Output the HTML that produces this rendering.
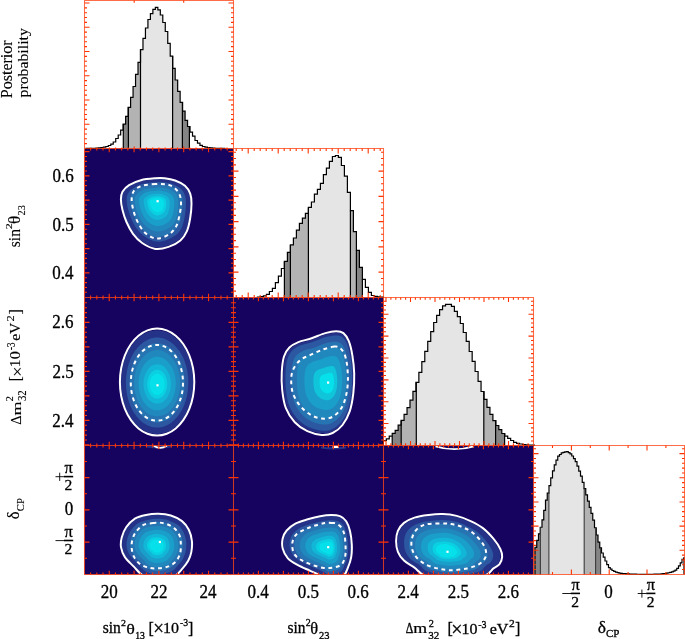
<!DOCTYPE html>
<html><head><meta charset="utf-8"><style>
html,body{margin:0;padding:0;background:#fff;width:685px;height:639px;overflow:hidden}
svg{display:block;font-family:"Liberation Serif",serif;will-change:transform}
</style></head><body>
<svg width="685" height="639" viewBox="0 0 685 639"><rect x="0" y="0" width="685" height="639" fill="#fff"/>
<rect x="84.5" y="148.5" width="149" height="149" fill="#15035f"/>
<rect x="84.5" y="297.5" width="149" height="148" fill="#15035f"/>
<rect x="233.5" y="297.5" width="150" height="148" fill="#15035f"/>
<rect x="84.5" y="445.5" width="149" height="129" fill="#15035f"/>
<rect x="233.5" y="445.5" width="150" height="129" fill="#15035f"/>
<rect x="383.5" y="445.5" width="150" height="129" fill="#15035f"/>
<path d="M123.3 148.5L123.3 124.1L125.64 124.1L125.64 116.3L128.12 116.3L128.12 107.4L128.4 107.4L128.4 148.5Z" fill="#858585"/>
<path d="M128.4 148.5L128.4 107.4L130.59 107.4L130.59 97.4L133.07 97.4L133.07 86.5L135.55 86.5L135.55 74.3L138.02 74.3L138.02 62.3L140.5 62.3L140.5 148.5Z" fill="#b3b3b3"/>
<path d="M140.5 148.5L140.5 49.6L142.98 49.6L142.98 38.3L145.45 38.3L145.45 28L147.93 28L147.93 19.5L150.41 19.5L150.41 13.6L152.88 13.6L152.88 9.4L155.36 9.4L155.36 7.3L157.84 7.3L157.84 9.9L160.32 9.9L160.32 15L162.79 15L162.79 22.5L165.27 22.5L165.27 31.5L167.75 31.5L167.75 43.4L170.22 43.4L170.22 56.1L172.6 56.1L172.6 148.5Z" fill="#e5e5e5"/>
<path d="M172.6 148.5L172.6 56.1L172.7 56.1L172.7 68.3L175.18 68.3L175.18 80L177.66 80L177.66 91.3L180.13 91.3L180.13 102.3L182.4 102.3L182.4 148.5Z" fill="#b3b3b3"/>
<path d="M182.4 148.5L182.4 102.3L182.61 102.3L182.61 111.2L185.09 111.2L185.09 120.4L187.56 120.4L187.56 126.5L189.4 126.5L189.4 148.5Z" fill="#858585"/>
<path d="M86.01 148.5V148.45H88.48V148.42H90.96V148.36H93.44V148.28H95.91V148.13H98.39V147.89H100.87V147.5H103.34V147.1H105.82V146.5H108.3V145.5H110.78V144.2H113.25V142H115.73V138.5H118.21V135H120.68V130.2H123.16V124.1H125.64V116.3H128.12V107.4H130.59V97.4H133.07V86.5H135.55V74.3H138.02V62.3H140.5V49.6H142.98V38.3H145.45V28H147.93V19.5H150.41V13.6H152.88V9.4H155.36V7.3H157.84V9.9H160.32V15H162.79V22.5H165.27V31.5H167.75V43.4H170.22V56.1H172.7V68.3H175.18V80H177.66V91.3H180.13V102.3H182.61V111.2H185.09V120.4H187.56V126.5H190.04V132.2H192.52V136.2H194.99V140.5H197.47V143.2H199.95V145.3H202.43V146.5H204.9V147.2H207.38V147.6H209.86V147.95H212.33V148.17H214.81V148.3H217.29V148.38H219.76V148.43H222.24V148.46H224.72V148.5" fill="none" stroke="#000" stroke-width="1.2"/>
<path d="M123.3 148.5V124.1" stroke="#000" stroke-width="1.2"/>
<path d="M128.4 148.5V107.4" stroke="#000" stroke-width="1.2"/>
<path d="M140.5 148.5V49.6" stroke="#000" stroke-width="1.2"/>
<path d="M172.6 148.5V56.1" stroke="#000" stroke-width="1.2"/>
<path d="M182.4 148.5V102.3" stroke="#000" stroke-width="1.2"/>
<path d="M189.4 148.5V126.5" stroke="#000" stroke-width="1.2"/>
<path d="M284.4 297.5L284.4 261.4L287.4 261.4L287.4 252.3L290.4 252.3L290.4 297.5Z" fill="#858585"/>
<path d="M290.4 297.5L290.4 244.9L293.4 244.9L293.4 238L296.4 238L296.4 230.2L299.4 230.2L299.4 223.3L302.4 223.3L302.4 218.1L305.4 218.1L305.4 213.3L308.4 213.3L308.4 297.5Z" fill="#b3b3b3"/>
<path d="M308.4 297.5L308.4 207.4L311.4 207.4L311.4 202L314.4 202L314.4 194.2L317.4 194.2L317.4 189.3L320.4 189.3L320.4 183.3L323.4 183.3L323.4 174.6L326.4 174.6L326.4 168.2L329.4 168.2L329.4 161.3L332.4 161.3L332.4 156.5L335.4 156.5L335.4 155.5L338.4 155.5L338.4 157.4L341.4 157.4L341.4 165.5L344.4 165.5L344.4 176.2L347.4 176.2L347.4 192.3L350.4 192.3L350.4 297.5Z" fill="#e5e5e5"/>
<path d="M350.4 297.5L350.4 210.6L353.4 210.6L353.4 231.6L356.4 231.6L356.4 297.5Z" fill="#b3b3b3"/>
<path d="M356.4 297.5L356.4 250.4L359.4 250.4L359.4 267.3L362.4 267.3L362.4 297.5Z" fill="#858585"/>
<path d="M257.4 297.5V297H260.4V296.6H263.4V295.9H266.4V294.3H269.4V291.5H272.4V288.4H275.4V282.7H278.4V276.2H281.4V268.5H284.4V261.4H287.4V252.3H290.4V244.9H293.4V238H296.4V230.2H299.4V223.3H302.4V218.1H305.4V213.3H308.4V207.4H311.4V202H314.4V194.2H317.4V189.3H320.4V183.3H323.4V174.6H326.4V168.2H329.4V161.3H332.4V156.5H335.4V155.5H338.4V157.4H341.4V165.5H344.4V176.2H347.4V192.3H350.4V210.6H353.4V231.6H356.4V250.4H359.4V267.3H362.4V279.3H365.4V287.4H368.4V292.3H371.4V295.5H374.4V296.3H377.4V296.8H380.4V297.1H383.4V297.5" fill="none" stroke="#000" stroke-width="1.2"/>
<path d="M284.4 297.5V261.4" stroke="#000" stroke-width="1.2"/>
<path d="M290.4 297.5V244.9" stroke="#000" stroke-width="1.2"/>
<path d="M308.4 297.5V207.4" stroke="#000" stroke-width="1.2"/>
<path d="M350.4 297.5V210.6" stroke="#000" stroke-width="1.2"/>
<path d="M356.4 297.5V250.4" stroke="#000" stroke-width="1.2"/>
<path d="M362.4 297.5V279.3" stroke="#000" stroke-width="1.2"/>
<path d="M392.2 445.5L392.2 436.2L392.22 436.2L392.22 433.3L395.18 433.3L395.18 430.3L398.14 430.3L398.14 425.2L401.11 425.2L401.11 420.4L401.2 420.4L401.2 445.5Z" fill="#858585"/>
<path d="M401.2 445.5L401.2 420.4L404.07 420.4L404.07 414.3L407.03 414.3L407.03 407.6L409.99 407.6L409.99 400.2L412.95 400.2L412.95 391.3L415.91 391.3L415.91 382.4L416.3 382.4L416.3 445.5Z" fill="#b3b3b3"/>
<path d="M416.3 445.5L416.3 382.4L418.87 382.4L418.87 372.3L421.83 372.3L421.83 361.7L424.79 361.7L424.79 351.4L427.75 351.4L427.75 341.3L430.72 341.3L430.72 331.6L433.68 331.6L433.68 322.5L436.64 322.5L436.64 315.3L439.6 315.3L439.6 309.7L442.56 309.7L442.56 305.9L445.52 305.9L445.52 304.3L448.48 304.3L448.48 304.3L451.44 304.3L451.44 306.4L454.4 306.4L454.4 311.3L457.36 311.3L457.36 316.7L460.33 316.7L460.33 323.5L463.29 323.5L463.29 332.5L466.25 332.5L466.25 341.4L469.21 341.4L469.21 351.5L472.17 351.5L472.17 361.4L475.13 361.4L475.13 371.5L478.09 371.5L478.09 381.3L481.05 381.3L481.05 391.5L483.8 391.5L483.8 445.5Z" fill="#e5e5e5"/>
<path d="M483.8 445.5L483.8 391.5L484.01 391.5L484.01 399.4L486.97 399.4L486.97 407.3L489.94 407.3L489.94 414.3L492.9 414.3L492.9 420.6L495.6 420.6L495.6 445.5Z" fill="#b3b3b3"/>
<path d="M495.6 445.5L495.6 420.6L495.86 420.6L495.86 425.5L498.82 425.5L498.82 429.6L501.78 429.6L501.78 433.5L504.6 433.5L504.6 445.5Z" fill="#858585"/>
<path d="M383.34 445.5V440.5H386.3V438.8H389.26V436.2H392.22V433.3H395.18V430.3H398.14V425.2H401.11V420.4H404.07V414.3H407.03V407.6H409.99V400.2H412.95V391.3H415.91V382.4H418.87V372.3H421.83V361.7H424.79V351.4H427.75V341.3H430.72V331.6H433.68V322.5H436.64V315.3H439.6V309.7H442.56V305.9H445.52V304.3H448.48V304.3H451.44V306.4H454.4V311.3H457.36V316.7H460.33V323.5H463.29V332.5H466.25V341.4H469.21V351.5H472.17V361.4H475.13V371.5H478.09V381.3H481.05V391.5H484.01V399.4H486.97V407.3H489.94V414.3H492.9V420.6H495.86V425.5H498.82V429.6H501.78V433.5H504.74V436.2H507.7V438.3H510.66V440.5H513.62V442.3H516.59V443.3H519.55V444H522.51V444.5H525.47V444.8H528.43V445H531.39V445.1H534.35V445.5" fill="none" stroke="#000" stroke-width="1.2"/>
<path d="M392.2 445.5V436.2" stroke="#000" stroke-width="1.2"/>
<path d="M401.2 445.5V420.4" stroke="#000" stroke-width="1.2"/>
<path d="M416.3 445.5V382.4" stroke="#000" stroke-width="1.2"/>
<path d="M483.8 445.5V391.5" stroke="#000" stroke-width="1.2"/>
<path d="M495.6 445.5V420.6" stroke="#000" stroke-width="1.2"/>
<path d="M504.6 445.5V433.5" stroke="#000" stroke-width="1.2"/>
<path d="M535 574.5L535 547.4L536.75 547.4L536.75 540.3L538.5 540.3L538.5 533.81L540.25 533.81L540.25 527.27L540.4 527.27L540.4 574.5Z" fill="#858585"/>
<path d="M540.4 574.5L540.4 527.27L542 527.27L542 519.81L543.75 519.81L543.75 510.47L545.5 510.47L545.5 500.1L547.25 500.1L547.25 493.19L548.9 493.19L548.9 574.5Z" fill="#b3b3b3"/>
<path d="M548.9 574.5L548.9 493.19L549 493.19L549 485.56L550.75 485.56L550.75 477.9L552.5 477.9L552.5 470.9L554.25 470.9L554.25 464.9L556 464.9L556 460.16L557.75 460.16L557.75 456.22L559.5 456.22L559.5 454.48L561.25 454.48L561.25 452.92L563 452.92L563 452.43L564.75 452.43L564.75 451.93L566.5 451.93L566.5 451.64L568.25 451.64L568.25 452.72L570 452.72L570 453.97L571.75 453.97L571.75 455.98L573.5 455.98L573.5 458.59L575.25 458.59L575.25 461.6L577 461.6L577 466.2L578.75 466.2L578.75 471.03L580.5 471.03L580.5 476.08L582.25 476.08L582.25 482.3L584 482.3L584 488.54L584.2 488.54L584.2 574.5Z" fill="#e5e5e5"/>
<path d="M584.2 574.5L584.2 488.54L585.75 488.54L585.75 494.83L587.5 494.83L587.5 501.13L589.25 501.13L589.25 507.3L591 507.3L591 513.47L592.75 513.47L592.75 520.08L594.5 520.08L594.5 527.74L595.6 527.74L595.6 574.5Z" fill="#b3b3b3"/>
<path d="M595.6 574.5L595.6 527.74L596.25 527.74L596.25 535.01L598 535.01L598 542.2L599.75 542.2L599.75 547.96L600.6 547.96L600.6 574.5Z" fill="#858585"/>
<path d="M535 574.5V547.4H536.75V540.3H538.5V533.81H540.25V527.27H542V519.81H543.75V510.47H545.5V500.1H547.25V493.19H549V485.56H550.75V477.9H552.5V470.9H554.25V464.9H556V460.16H557.75V456.22H559.5V454.48H561.25V452.92H563V452.43H564.75V451.93H566.5V451.64H568.25V452.72H570V453.97H571.75V455.98H573.5V458.59H575.25V461.6H577V466.2H578.75V471.03H580.5V476.08H582.25V482.3H584V488.54H585.75V494.83H587.5V501.13H589.25V507.3H591V513.47H592.75V520.08H594.5V527.74H596.25V535.01H598V542.2H599.75V547.96H601.5V553.02H603.25V557.15H605V561H606.75V564.72H608.5V567.62H610.25V569.15H612V570.52H613.75V571.42H615.5V572.13H617.25V572.61H619V573.1H620.75V573.35H622.5V573.53H624.25V573.71H626V573.83H627.75V573.95H629.5V574.07H631.25V574.13H633V574.16H634.75V574.2H636.5V574.23H638.25V574.27H640V574.3H641.75V574.3H643.5V574.3H645.25V574.3H647V574.3H648.75V574.3H650.5V574.28H652.25V574.23H654V574.18H655.75V574.13H657.5V574.07H659.25V574.02H661V573.9H662.75V573.72H664.5V573.55H666.25V573.19H668V572.76H669.75V572.33H671.5V571.79H673.25V571.13H675V570.1H676.75V568.41H678.5V565.88H680.25V562.78H682V559.36H683.75V557.91H684V574.5" fill="none" stroke="#000" stroke-width="1.2"/>
<path d="M535 574.5V547.4" stroke="#3a3a3a" stroke-width="1.1"/>
<path d="M540.4 574.5V527.27" stroke="#3a3a3a" stroke-width="1.1"/>
<path d="M548.9 574.5V493.19" stroke="#3a3a3a" stroke-width="1.1"/>
<path d="M584.2 574.5V488.54" stroke="#3a3a3a" stroke-width="1.1"/>
<path d="M595.6 574.5V527.74" stroke="#3a3a3a" stroke-width="1.1"/>
<path d="M600.6 574.5V547.96" stroke="#3a3a3a" stroke-width="1.1"/>
<defs>
<clipPath id="c41"><rect x="84.5" y="445.5" width="149" height="129"/></clipPath>
<clipPath id="c42"><rect x="233.5" y="445.5" width="150" height="129"/></clipPath>
<clipPath id="c43"><rect x="383.5" y="445.5" width="150" height="129"/></clipPath>
</defs>
<path d="M155.45 179.04C151.62 179.35 145.63 179.78 141.38 180.88C137.13 181.98 132.91 183.78 129.94 185.64C126.96 187.5 124.86 189.69 123.53 192.04C122.21 194.38 121.98 196.73 121.98 199.7C121.98 202.68 122.63 206.27 123.53 209.89C124.44 213.51 125.72 217.6 127.41 221.43C129.11 225.26 131.18 229.48 133.72 232.88C136.26 236.27 139.02 239.36 142.64 241.8C146.27 244.24 151.2 246.89 155.45 247.52C159.7 248.15 164.11 246.96 168.16 245.58C172.2 244.21 176.72 241.82 179.7 239.28C182.67 236.74 184.42 233.98 186 230.35C187.59 226.73 188.46 222.03 189.2 217.55C189.95 213.07 190.47 207.41 190.47 203.49C190.47 199.56 190.25 196.84 189.2 193.98C188.15 191.12 186.6 188.45 184.16 186.32C181.72 184.18 177.85 182.39 174.56 181.18C171.26 179.96 167.56 179.4 164.37 179.04C161.19 178.69 159.28 178.73 155.45 179.04Z" fill="#243388"/>
<path d="M155.66 182.25C152.34 182.52 147.16 182.9 143.48 183.85C139.79 184.8 136.14 186.35 133.56 187.96C130.99 189.57 129.17 191.48 128.02 193.51C126.87 195.54 126.68 197.57 126.68 200.14C126.68 202.72 127.24 205.83 128.02 208.96C128.8 212.1 129.91 215.64 131.38 218.96C132.85 222.28 134.64 225.93 136.84 228.87C139.04 231.81 141.43 234.49 144.57 236.6C147.7 238.71 151.97 241.01 155.66 241.56C159.34 242.1 163.16 241.07 166.66 239.88C170.16 238.69 174.08 236.61 176.66 234.42C179.23 232.22 180.74 229.82 182.12 226.69C183.49 223.55 184.24 219.48 184.89 215.6C185.53 211.72 185.98 206.82 185.98 203.42C185.98 200.02 185.8 197.67 184.89 195.19C183.98 192.71 182.63 190.4 180.52 188.55C178.41 186.7 175.06 185.15 172.2 184.1C169.35 183.05 166.14 182.56 163.38 182.25C160.63 181.94 158.97 181.99 155.66 182.25Z" fill="#2b58a0"/>
<path d="M155.82 184.72C152.89 184.96 148.33 185.29 145.09 186.13C141.84 186.97 138.62 188.34 136.35 189.75C134.08 191.17 132.48 192.85 131.47 194.64C130.46 196.43 130.29 198.21 130.29 200.48C130.29 202.75 130.78 205.49 131.47 208.25C132.16 211.02 133.13 214.14 134.43 217.06C135.73 219.98 137.3 223.2 139.24 225.79C141.18 228.38 143.29 230.74 146.05 232.6C148.81 234.46 152.57 236.49 155.82 236.97C159.06 237.45 162.43 236.53 165.51 235.49C168.59 234.44 172.05 232.61 174.32 230.68C176.59 228.74 177.92 226.63 179.13 223.87C180.33 221.11 181 217.52 181.57 214.1C182.14 210.68 182.53 206.37 182.53 203.37C182.53 200.37 182.37 198.3 181.57 196.12C180.77 193.94 179.58 191.9 177.72 190.27C175.86 188.64 172.91 187.28 170.39 186.35C167.88 185.42 165.05 184.99 162.62 184.72C160.19 184.45 158.74 184.49 155.82 184.72Z" fill="#2774b2"/>
<path d="M156.01 187.69C153.56 187.88 149.74 188.16 147.02 188.86C144.3 189.57 141.6 190.71 139.7 191.9C137.8 193.09 136.46 194.5 135.61 195.99C134.76 197.49 134.62 198.99 134.62 200.89C134.62 202.79 135.03 205.09 135.61 207.4C136.19 209.72 137 212.33 138.09 214.78C139.18 217.23 140.5 219.93 142.12 222.1C143.74 224.27 145.51 226.24 147.82 227.8C150.14 229.36 153.29 231.06 156.01 231.46C158.73 231.86 161.55 231.1 164.13 230.22C166.71 229.34 169.61 227.81 171.51 226.19C173.41 224.57 174.53 222.8 175.54 220.48C176.55 218.17 177.11 215.16 177.58 212.3C178.06 209.44 178.39 205.82 178.39 203.31C178.39 200.8 178.26 199.06 177.58 197.23C176.91 195.4 175.92 193.7 174.36 192.34C172.8 190.97 170.33 189.83 168.22 189.05C166.11 188.28 163.75 187.91 161.71 187.69C159.68 187.46 158.46 187.49 156.01 187.69Z" fill="#2188be"/>
<path d="M156.2 190.65C154.22 190.81 151.14 191.03 148.95 191.6C146.76 192.17 144.58 193.09 143.05 194.05C141.52 195.01 140.43 196.14 139.75 197.35C139.07 198.56 138.95 199.77 138.95 201.3C138.95 202.83 139.28 204.68 139.75 206.55C140.22 208.42 140.88 210.53 141.75 212.5C142.62 214.47 143.69 216.65 145 218.4C146.31 220.15 147.73 221.74 149.6 223C151.47 224.26 154.01 225.62 156.2 225.95C158.39 226.27 160.67 225.66 162.75 224.95C164.83 224.24 167.17 223.01 168.7 221.7C170.23 220.39 171.13 218.97 171.95 217.1C172.77 215.23 173.22 212.81 173.6 210.5C173.98 208.19 174.25 205.28 174.25 203.25C174.25 201.22 174.14 199.82 173.6 198.35C173.06 196.88 172.26 195.5 171 194.4C169.74 193.3 167.75 192.38 166.05 191.75C164.35 191.12 162.44 190.83 160.8 190.65C159.16 190.47 158.17 190.49 156.2 190.65Z" fill="#1a9eca"/>
<path d="M156.41 193.86C154.95 193.98 152.66 194.14 151.04 194.56C149.42 194.98 147.81 195.67 146.68 196.38C145.54 197.09 144.74 197.92 144.24 198.82C143.73 199.71 143.64 200.61 143.64 201.74C143.64 202.88 143.89 204.25 144.24 205.63C144.58 207.01 145.07 208.57 145.72 210.03C146.36 211.49 147.15 213.1 148.12 214.4C149.09 215.69 150.14 216.87 151.52 217.8C152.91 218.73 154.79 219.74 156.41 219.98C158.03 220.22 159.71 219.77 161.25 219.24C162.8 218.72 164.52 217.81 165.66 216.84C166.79 215.87 167.46 214.82 168.06 213.43C168.67 212.05 169 210.26 169.28 208.55C169.57 206.84 169.76 204.68 169.76 203.19C169.76 201.69 169.68 200.65 169.28 199.56C168.88 198.47 168.29 197.45 167.36 196.64C166.43 195.82 164.96 195.14 163.7 194.68C162.44 194.21 161.03 194 159.81 193.86C158.6 193.73 157.87 193.74 156.41 193.86Z" fill="#12b6d6"/>
<path d="M156.57 196.33C155.5 196.42 153.84 196.54 152.65 196.84C151.47 197.15 150.29 197.65 149.47 198.17C148.64 198.68 148.05 199.3 147.69 199.95C147.32 200.6 147.25 201.25 147.25 202.08C147.25 202.91 147.43 203.91 147.69 204.92C147.94 205.93 148.29 207.06 148.76 208.13C149.24 209.2 149.81 210.37 150.52 211.32C151.23 212.26 152 213.12 153 213.8C154.01 214.48 155.38 215.22 156.57 215.39C157.75 215.57 158.98 215.24 160.1 214.85C161.23 214.47 162.49 213.8 163.32 213.1C164.15 212.39 164.63 211.62 165.07 210.61C165.51 209.61 165.76 208.3 165.96 207.05C166.17 205.8 166.31 204.23 166.31 203.13C166.31 202.04 166.26 201.29 165.96 200.49C165.67 199.69 165.24 198.95 164.56 198.36C163.88 197.76 162.81 197.26 161.89 196.93C160.97 196.59 159.94 196.43 159.05 196.33C158.17 196.23 157.63 196.25 156.57 196.33Z" fill="#0ad0e2"/>
<path d="M156.68 198.06C155.89 198.12 154.66 198.21 153.78 198.44C152.9 198.67 152.03 199.04 151.42 199.42C150.81 199.8 150.37 200.26 150.1 200.74C149.83 201.22 149.78 201.71 149.78 202.32C149.78 202.93 149.91 203.67 150.1 204.42C150.29 205.17 150.55 206.01 150.9 206.8C151.25 207.59 151.68 208.46 152.2 209.16C152.72 209.86 153.29 210.5 154.04 211C154.79 211.5 155.8 212.05 156.68 212.18C157.56 212.31 158.47 212.06 159.3 211.78C160.13 211.5 161.07 211 161.68 210.48C162.29 209.96 162.65 209.39 162.98 208.64C163.31 207.89 163.49 206.92 163.64 206C163.79 205.08 163.9 203.91 163.9 203.1C163.9 202.29 163.86 201.73 163.64 201.14C163.42 200.55 163.1 200 162.6 199.56C162.1 199.12 161.3 198.75 160.62 198.5C159.94 198.25 159.18 198.13 158.52 198.06C157.86 197.99 157.47 198 156.68 198.06Z" fill="#05e0ea"/>
<path d="M155.4 178.3C151.45 178.62 145.28 179.07 140.9 180.2C136.52 181.33 132.17 183.18 129.1 185.1C126.03 187.02 123.87 189.28 122.5 191.7C121.13 194.12 120.9 196.53 120.9 199.6C120.9 202.67 121.57 206.37 122.5 210.1C123.43 213.83 124.75 218.05 126.5 222C128.25 225.95 130.38 230.3 133 233.8C135.62 237.3 138.47 240.48 142.2 243C145.93 245.52 151.02 248.25 155.4 248.9C159.78 249.55 164.33 248.32 168.5 246.9C172.67 245.48 177.33 243.02 180.4 240.4C183.47 237.78 185.27 234.93 186.9 231.2C188.53 227.47 189.43 222.62 190.2 218C190.97 213.38 191.5 207.55 191.5 203.5C191.5 199.45 191.28 196.65 190.2 193.7C189.12 190.75 187.52 188 185 185.8C182.48 183.6 178.5 181.75 175.1 180.5C171.7 179.25 167.88 178.67 164.6 178.3C161.32 177.93 159.35 177.98 155.4 178.3Z" fill="none" stroke="#fff" stroke-width="2"/>
<path d="M155.4 184.1C151.23 184.32 145.72 184.75 142.2 185.8C138.68 186.85 136.05 188.32 134.3 190.4C132.55 192.48 131.92 195.23 131.7 198.3C131.48 201.37 132.12 205.08 133 208.8C133.88 212.52 135.25 216.87 137 220.6C138.75 224.33 141.1 228.45 143.5 231.2C145.9 233.95 148.77 235.9 151.4 237.1C154.03 238.3 156.23 238.95 159.3 238.4C162.37 237.85 166.95 235.88 169.8 233.8C172.65 231.72 174.75 229.18 176.4 225.9C178.05 222.62 178.93 217.83 179.7 214.1C180.47 210.37 181 206.68 181 203.5C181 200.32 180.68 197.52 179.7 195C178.72 192.48 177.18 190.15 175.1 188.4C173.02 186.65 170.48 185.22 167.2 184.5C163.92 183.78 159.57 183.88 155.4 184.1Z" fill="none" stroke="#fff" stroke-width="2" stroke-dasharray="3.8 3.7"/>
<rect x="156.5" y="200.1" width="2.2" height="2.2" fill="#fff"/>
<path d="M193.19 382.19C193.19 386.66 192.77 391.29 191.96 395.62C191.15 399.94 189.91 404.26 188.36 408.13C186.8 412.01 184.82 415.72 182.62 418.88C180.42 422.05 177.84 424.89 175.15 427.13C172.45 429.37 169.45 431.15 166.45 432.31C163.44 433.47 160.22 434.08 157.11 434.08C153.99 434.08 150.77 433.47 147.77 432.31C144.76 431.15 141.76 429.37 139.06 427.13C136.37 424.89 133.79 422.05 131.59 418.88C129.39 415.72 127.41 412.01 125.86 408.13C124.3 404.26 123.06 399.94 122.25 395.62C121.45 391.29 121.02 386.66 121.02 382.19C121.02 377.71 121.45 373.08 122.25 368.76C123.06 364.43 124.3 360.12 125.86 356.24C127.41 352.36 129.39 348.66 131.59 345.49C133.79 342.33 136.37 339.48 139.06 337.24C141.76 335.01 144.76 333.22 147.77 332.06C150.77 330.9 153.99 330.29 157.11 330.29C160.22 330.29 163.44 330.9 166.45 332.06C169.45 333.22 172.45 335.01 175.15 337.24C177.84 339.48 180.42 342.33 182.62 345.49C184.82 348.66 186.8 352.36 188.36 356.24C189.91 360.12 191.15 364.43 191.96 368.76C192.77 373.08 193.19 377.71 193.19 382.19Z" fill="#243388"/>
<path d="M188.38 382.56C188.38 386.44 188.01 390.45 187.32 394.2C186.62 397.94 185.54 401.68 184.19 405.03C182.85 408.39 181.13 411.6 179.23 414.34C177.32 417.08 175.09 419.54 172.76 421.48C170.42 423.42 167.82 424.97 165.22 425.97C162.62 426.98 159.83 427.5 157.13 427.5C154.44 427.5 151.65 426.98 149.04 425.97C146.44 424.97 143.84 423.42 141.51 421.48C139.17 419.54 136.94 417.08 135.04 414.34C133.13 411.6 131.42 408.39 130.07 405.03C128.72 401.68 127.65 397.94 126.95 394.2C126.25 390.45 125.88 386.44 125.88 382.56C125.88 378.69 126.25 374.68 126.95 370.93C127.65 367.19 128.72 363.45 130.07 360.09C131.42 356.74 133.13 353.53 135.04 350.79C136.94 348.05 139.17 345.58 141.51 343.64C143.84 341.71 146.44 340.16 149.04 339.16C151.65 338.15 154.44 337.62 157.13 337.62C159.83 337.62 162.62 338.15 165.22 339.16C167.82 340.16 170.42 341.71 172.76 343.64C175.09 345.58 177.32 348.05 179.23 350.79C181.13 353.53 182.85 356.74 184.19 360.09C185.54 363.45 186.62 367.19 187.32 370.93C188.01 374.68 188.38 378.69 188.38 382.56Z" fill="#2b58a0"/>
<path d="M184.68 382.85C184.68 386.27 184.36 389.8 183.74 393.1C183.13 396.4 182.18 399.69 180.99 402.65C179.8 405.61 178.3 408.43 176.62 410.85C174.94 413.26 172.97 415.43 170.92 417.14C168.86 418.85 166.57 420.21 164.28 421.1C161.98 421.98 159.53 422.44 157.15 422.44C154.78 422.44 152.32 421.98 150.03 421.1C147.73 420.21 145.44 418.85 143.39 417.14C141.33 415.43 139.37 413.26 137.69 410.85C136.01 408.43 134.5 405.61 133.31 402.65C132.12 399.69 131.18 396.4 130.56 393.1C129.95 389.8 129.62 386.27 129.62 382.85C129.62 379.44 129.95 375.91 130.56 372.61C131.18 369.31 132.12 366.02 133.31 363.06C134.5 360.1 136.01 357.27 137.69 354.86C139.37 352.44 141.33 350.28 143.39 348.57C145.44 346.86 147.73 345.5 150.03 344.61C152.32 343.73 154.78 343.26 157.15 343.26C159.53 343.26 161.98 343.73 164.28 344.61C166.57 345.5 168.86 346.86 170.92 348.57C172.97 350.28 174.94 352.44 176.62 354.86C178.3 357.27 179.8 360.1 180.99 363.06C182.18 366.02 183.13 369.31 183.74 372.61C184.36 375.91 184.68 379.44 184.68 382.85Z" fill="#2774b2"/>
<path d="M180.24 383.2C180.24 386.06 179.97 389.02 179.45 391.79C178.94 394.55 178.14 397.31 177.15 399.79C176.16 402.27 174.89 404.63 173.48 406.66C172.08 408.68 170.43 410.5 168.71 411.93C166.98 413.36 165.07 414.5 163.15 415.24C161.22 415.98 159.17 416.37 157.18 416.37C155.19 416.37 153.13 415.98 151.21 415.24C149.28 414.5 147.37 413.36 145.64 411.93C143.92 410.5 142.27 408.68 140.87 406.66C139.46 404.63 138.2 402.27 137.2 399.79C136.21 397.31 135.41 394.55 134.9 391.79C134.38 389.02 134.11 386.06 134.11 383.2C134.11 380.34 134.38 377.38 134.9 374.62C135.41 371.85 136.21 369.1 137.2 366.62C138.2 364.14 139.46 361.77 140.87 359.75C142.27 357.72 143.92 355.91 145.64 354.48C147.37 353.05 149.28 351.9 151.21 351.16C153.13 350.42 155.19 350.03 157.18 350.03C159.17 350.03 161.22 350.42 163.15 351.16C165.07 351.9 166.98 353.05 168.71 354.48C170.43 355.91 172.08 357.72 173.48 359.75C174.89 361.77 176.16 364.14 177.15 366.62C178.14 369.1 178.94 371.85 179.45 374.62C179.97 377.38 180.24 380.34 180.24 383.2Z" fill="#2188be"/>
<path d="M175.8 383.55C175.8 385.86 175.58 388.24 175.17 390.47C174.75 392.7 174.11 394.93 173.31 396.93C172.51 398.92 171.49 400.83 170.35 402.47C169.22 404.1 167.89 405.56 166.5 406.72C165.11 407.87 163.56 408.79 162.01 409.39C160.46 409.99 158.8 410.3 157.2 410.3C155.6 410.3 153.94 409.99 152.39 409.39C150.84 408.79 149.29 407.87 147.9 406.72C146.51 405.56 145.18 404.1 144.05 402.47C142.91 400.83 141.89 398.92 141.09 396.93C140.29 394.93 139.65 392.7 139.23 390.47C138.82 388.24 138.6 385.86 138.6 383.55C138.6 381.24 138.82 378.86 139.23 376.63C139.65 374.4 140.29 372.17 141.09 370.18C141.89 368.18 142.91 366.27 144.05 364.63C145.18 363 146.51 361.54 147.9 360.38C149.29 359.23 150.84 358.31 152.39 357.71C153.94 357.11 155.6 356.8 157.2 356.8C158.8 356.8 160.46 357.11 162.01 357.71C163.56 358.31 165.11 359.23 166.5 360.38C167.89 361.54 169.22 363 170.35 364.63C171.49 366.27 172.51 368.18 173.31 370.18C174.11 372.17 174.75 374.4 175.17 376.63C175.58 378.86 175.8 381.24 175.8 383.55Z" fill="#1a9eca"/>
<path d="M170.99 383.93C170.99 385.63 170.83 387.4 170.52 389.05C170.21 390.7 169.74 392.35 169.15 393.82C168.55 395.3 167.8 396.72 166.96 397.92C166.12 399.13 165.14 400.22 164.11 401.07C163.08 401.92 161.94 402.61 160.79 403.05C159.64 403.49 158.41 403.72 157.23 403.72C156.04 403.72 154.81 403.49 153.66 403.05C152.52 402.61 151.37 401.92 150.34 401.07C149.32 400.22 148.33 399.13 147.49 397.92C146.65 396.72 145.9 395.3 145.31 393.82C144.71 392.35 144.24 390.7 143.93 389.05C143.62 387.4 143.46 385.63 143.46 383.93C143.46 382.22 143.62 380.45 143.93 378.8C144.24 377.15 144.71 375.51 145.31 374.03C145.9 372.55 146.65 371.14 147.49 369.93C148.33 368.72 149.32 367.64 150.34 366.78C151.37 365.93 152.52 365.25 153.66 364.81C154.81 364.36 156.04 364.13 157.23 364.13C158.41 364.13 159.64 364.36 160.79 364.81C161.94 365.25 163.08 365.93 164.11 366.78C165.14 367.64 166.12 368.72 166.96 369.93C167.8 371.14 168.55 372.55 169.15 374.03C169.74 375.51 170.21 377.15 170.52 378.8C170.83 380.45 170.99 382.22 170.99 383.93Z" fill="#12b6d6"/>
<path d="M167.29 384.22C167.29 385.46 167.17 386.75 166.95 387.96C166.72 389.16 166.38 390.36 165.94 391.44C165.51 392.52 164.96 393.55 164.35 394.43C163.74 395.31 163.02 396.1 162.27 396.73C161.52 397.35 160.68 397.85 159.85 398.17C159.01 398.49 158.11 398.66 157.25 398.66C156.38 398.66 155.48 398.49 154.65 398.17C153.81 397.85 152.97 397.35 152.22 396.73C151.47 396.1 150.76 395.31 150.14 394.43C149.53 393.55 148.98 392.52 148.55 391.44C148.11 390.36 147.77 389.16 147.54 387.96C147.32 386.75 147.2 385.46 147.2 384.22C147.2 382.97 147.32 381.68 147.54 380.48C147.77 379.27 148.11 378.07 148.55 376.99C148.98 375.92 149.53 374.88 150.14 374C150.76 373.12 151.47 372.33 152.22 371.71C152.97 371.08 153.81 370.59 154.65 370.26C155.48 369.94 156.38 369.77 157.25 369.77C158.11 369.77 159.01 369.94 159.85 370.26C160.68 370.59 161.52 371.08 162.27 371.71C163.02 372.33 163.74 373.12 164.35 374C164.96 374.88 165.51 375.92 165.94 376.99C166.38 378.07 166.72 379.27 166.95 380.48C167.17 381.68 167.29 382.97 167.29 384.22Z" fill="#0ad0e2"/>
<path d="M164.7 384.42C164.7 385.34 164.61 386.3 164.45 387.19C164.28 388.08 164.02 388.97 163.7 389.77C163.38 390.57 162.97 391.33 162.52 391.99C162.07 392.64 161.54 393.22 160.98 393.69C160.42 394.15 159.81 394.52 159.19 394.76C158.57 394.99 157.9 395.12 157.26 395.12C156.62 395.12 155.95 394.99 155.33 394.76C154.71 394.52 154.1 394.15 153.54 393.69C152.98 393.22 152.45 392.64 152 391.99C151.55 391.33 151.14 390.57 150.82 389.77C150.5 388.97 150.24 388.08 150.07 387.19C149.91 386.3 149.82 385.34 149.82 384.42C149.82 383.5 149.91 382.54 150.07 381.65C150.24 380.76 150.5 379.87 150.82 379.07C151.14 378.27 151.55 377.51 152 376.85C152.45 376.2 152.98 375.62 153.54 375.15C154.1 374.69 154.71 374.32 155.33 374.08C155.95 373.85 156.62 373.72 157.26 373.72C157.9 373.72 158.57 373.85 159.19 374.08C159.81 374.32 160.42 374.69 160.98 375.15C161.54 375.62 162.07 376.2 162.52 376.85C162.97 377.51 163.38 378.27 163.7 379.07C164.02 379.87 164.28 380.76 164.45 381.65C164.61 382.54 164.7 383.5 164.7 384.42Z" fill="#05e0ea"/>
<path d="M194.3 382.1C194.3 386.72 193.86 391.49 193.03 395.95C192.2 400.41 190.92 404.85 189.32 408.85C187.71 412.85 185.67 416.67 183.4 419.93C181.14 423.19 178.48 426.12 175.7 428.43C172.92 430.74 169.83 432.58 166.73 433.78C163.63 434.97 160.31 435.6 157.1 435.6C153.89 435.6 150.57 434.97 147.47 433.78C144.37 432.58 141.28 430.74 138.5 428.43C135.72 426.12 133.06 423.19 130.8 419.93C128.53 416.67 126.49 412.85 124.88 408.85C123.28 404.85 122 400.41 121.17 395.95C120.34 391.49 119.9 386.72 119.9 382.1C119.9 377.48 120.34 372.71 121.17 368.25C122 363.79 123.28 359.35 124.88 355.35C126.49 351.35 128.53 347.53 130.8 344.27C133.06 341.01 135.72 338.08 138.5 335.77C141.28 333.46 144.37 331.62 147.47 330.42C150.57 329.23 153.89 328.6 157.1 328.6C160.31 328.6 163.63 329.23 166.73 330.42C169.83 331.62 172.92 333.46 175.7 335.77C178.48 338.08 181.14 341.01 183.4 344.27C185.67 347.53 187.71 351.35 189.32 355.35C190.92 359.35 192.2 363.79 193.03 368.25C193.86 372.71 194.3 377.48 194.3 382.1Z" fill="none" stroke="#fff" stroke-width="2"/>
<path d="M183 382.8C183 386.07 182.69 389.45 182.11 392.61C181.53 395.77 180.63 398.92 179.5 401.75C178.38 404.58 176.95 407.29 175.36 409.6C173.76 411.91 171.9 413.99 169.95 415.62C168 417.26 165.83 418.56 163.66 419.41C161.48 420.25 159.15 420.7 156.9 420.7C154.65 420.7 152.32 420.25 150.14 419.41C147.97 418.56 145.8 417.26 143.85 415.62C141.9 413.99 140.04 411.91 138.44 409.6C136.85 407.29 135.42 404.58 134.3 401.75C133.17 398.92 132.27 395.77 131.69 392.61C131.11 389.45 130.8 386.07 130.8 382.8C130.8 379.53 131.11 376.15 131.69 372.99C132.27 369.83 133.17 366.68 134.3 363.85C135.42 361.02 136.85 358.31 138.44 356C140.04 353.69 141.9 351.61 143.85 349.98C145.8 348.34 147.97 347.04 150.14 346.19C152.32 345.35 154.65 344.9 156.9 344.9C159.15 344.9 161.48 345.35 163.66 346.19C165.83 347.04 168 348.34 169.95 349.98C171.9 351.61 173.76 353.69 175.36 356C176.95 358.31 178.38 361.02 179.5 363.85C180.63 366.68 181.53 369.83 182.11 372.99C182.69 376.15 183 379.53 183 382.8Z" fill="none" stroke="#fff" stroke-width="2" stroke-dasharray="3.8 3.7"/>
<rect x="156.4" y="384.2" width="2.2" height="2.2" fill="#fff"/>
<path d="M335.98 332.85C333.07 332.85 329.58 333.43 325.51 334.6C321.43 335.76 315.91 338.38 311.54 339.83C307.18 341.29 302.81 341.87 299.32 343.33C295.83 344.78 292.92 346.24 290.59 348.56C288.26 350.89 286.58 353.37 285.35 357.3C284.12 361.22 283.51 366.75 283.22 372.14C282.93 377.52 282.96 383.78 283.6 389.6C284.25 395.42 285.06 401.82 287.1 407.06C289.13 412.29 292.33 417.24 295.83 421.02C299.32 424.81 303.68 427.7 308.05 429.75C312.41 431.81 317.94 433.05 322.02 433.34C326.09 433.63 329.15 433.1 332.49 431.5C335.84 429.9 339.33 427.23 342.1 423.74C344.86 420.25 347.33 415.66 349.08 410.55C350.82 405.44 351.84 399.2 352.57 393.09C353.3 386.98 353.59 379.99 353.44 373.88C353.3 367.77 352.57 361.66 351.7 356.42C350.82 351.18 349.66 346.09 348.21 342.45C346.75 338.82 345 336.2 342.97 334.6C340.93 333 338.89 332.85 335.98 332.85Z" fill="#243388"/>
<path d="M335.62 335.44C332.86 335.44 329.55 335.99 325.69 337.09C321.82 338.2 316.58 340.68 312.44 342.06C308.3 343.44 304.16 343.99 300.85 345.37C297.54 346.75 294.78 348.13 292.57 350.34C290.36 352.55 288.77 354.89 287.6 358.62C286.43 362.35 285.85 367.59 285.58 372.7C285.3 377.8 285.33 383.74 285.94 389.26C286.56 394.78 287.32 400.85 289.26 405.82C291.19 410.78 294.22 415.48 297.54 419.06C300.85 422.65 304.99 425.4 309.13 427.34C313.27 429.29 318.51 430.47 322.38 430.75C326.24 431.02 329.14 430.52 332.31 429C335.49 427.48 338.8 424.95 341.42 421.64C344.04 418.33 346.39 413.97 348.04 409.13C349.7 404.28 350.67 398.36 351.36 392.57C352.05 386.77 352.32 380.15 352.18 374.35C352.05 368.56 351.36 362.76 350.53 357.79C349.7 352.82 348.6 347.99 347.22 344.54C345.84 341.09 344.18 338.61 342.25 337.09C340.32 335.57 338.38 335.44 335.62 335.44Z" fill="#2b58a0"/>
<path d="M334.76 341.64C332.36 341.64 329.48 342.12 326.12 343.08C322.76 344.04 318.2 346.2 314.6 347.4C311 348.6 307.4 349.08 304.52 350.28C301.64 351.48 299.24 352.68 297.32 354.6C295.4 356.52 294.01 358.56 293 361.8C291.99 365.04 291.48 369.6 291.24 374.04C291 378.48 291.03 383.64 291.56 388.44C292.09 393.24 292.76 398.52 294.44 402.84C296.12 407.16 298.76 411.24 301.64 414.36C304.52 417.48 308.12 419.87 311.72 421.56C315.32 423.25 319.88 424.28 323.24 424.52C326.6 424.76 329.12 424.32 331.88 423C334.64 421.68 337.52 419.48 339.8 416.6C342.08 413.72 344.12 409.93 345.56 405.72C347 401.51 347.84 396.36 348.44 391.32C349.04 386.28 349.28 380.52 349.16 375.48C349.04 370.44 348.44 365.4 347.72 361.08C347 356.76 346.04 352.56 344.84 349.56C343.64 346.56 342.2 344.4 340.52 343.08C338.84 341.76 337.16 341.64 334.76 341.64Z" fill="#2774b2"/>
<path d="M333.9 347.84C331.86 347.84 329.41 348.25 326.55 349.07C323.7 349.88 319.82 351.72 316.76 352.74C313.7 353.76 310.64 354.17 308.19 355.19C305.74 356.21 303.7 357.23 302.07 358.86C300.44 360.49 299.26 362.23 298.4 364.98C297.54 367.73 297.11 371.61 296.9 375.38C296.7 379.16 296.72 383.54 297.18 387.62C297.63 391.7 298.2 396.19 299.62 399.86C301.05 403.54 303.3 407 305.74 409.66C308.19 412.31 311.25 414.34 314.31 415.78C317.37 417.22 321.25 418.09 324.1 418.29C326.96 418.5 329.1 418.12 331.45 417C333.79 415.88 336.24 414.01 338.18 411.56C340.12 409.11 341.85 405.89 343.08 402.31C344.3 398.73 345.01 394.36 345.52 390.07C346.03 385.79 346.24 380.89 346.14 376.61C346.03 372.32 345.52 368.04 344.91 364.37C344.3 360.7 343.48 357.13 342.46 354.58C341.44 352.03 340.22 350.19 338.79 349.07C337.36 347.95 335.94 347.84 333.9 347.84Z" fill="#2188be"/>
<path d="M332.74 356.12C331.18 356.12 329.31 356.43 327.13 357.05C324.94 357.68 321.98 359.08 319.64 359.86C317.3 360.64 314.96 360.95 313.09 361.73C311.22 362.51 309.66 363.29 308.41 364.54C307.16 365.79 306.26 367.11 305.6 369.22C304.94 371.33 304.61 374.29 304.46 377.18C304.3 380.06 304.32 383.42 304.66 386.54C305.01 389.66 305.44 393.09 306.54 395.9C307.63 398.7 309.34 401.36 311.22 403.38C313.09 405.41 315.43 406.96 317.77 408.06C320.11 409.16 323.07 409.83 325.26 409.99C327.44 410.14 329.08 409.86 330.87 409C332.67 408.14 334.54 406.71 336.02 404.84C337.5 402.97 338.83 400.51 339.76 397.77C340.7 395.03 341.25 391.68 341.64 388.41C342.03 385.13 342.18 381.39 342.1 378.11C342.03 374.84 341.64 371.56 341.17 368.75C340.7 365.94 340.08 363.21 339.3 361.26C338.52 359.31 337.58 357.91 336.49 357.05C335.4 356.19 334.3 356.12 332.74 356.12Z" fill="#1a9eca"/>
<path d="M331.38 365.94C330.39 365.94 329.2 366.14 327.81 366.53C326.43 366.93 324.55 367.82 323.06 368.31C321.57 368.81 320.09 369.01 318.9 369.5C317.71 370 316.72 370.49 315.93 371.29C315.14 372.08 314.57 372.92 314.15 374.25C313.73 375.59 313.52 377.47 313.42 379.3C313.32 381.14 313.34 383.26 313.56 385.24C313.78 387.22 314.05 389.4 314.74 391.18C315.44 392.97 316.53 394.65 317.71 395.94C318.9 397.22 320.39 398.21 321.87 398.91C323.36 399.6 325.24 400.03 326.62 400.13C328.01 400.23 329.05 400.04 330.19 399.5C331.33 398.96 332.51 398.05 333.45 396.86C334.4 395.67 335.24 394.11 335.83 392.37C336.43 390.63 336.77 388.51 337.02 386.43C337.27 384.35 337.37 381.98 337.32 379.9C337.27 377.82 337.02 375.74 336.72 373.96C336.42 372.18 336.03 370.44 335.53 369.21C335.04 367.97 334.44 367.08 333.75 366.53C333.06 365.99 332.37 365.94 331.38 365.94Z" fill="#10c4da"/>
<path d="M330.44 372.66C329.84 372.66 329.12 372.78 328.28 373.02C327.44 373.26 326.3 373.8 325.4 374.1C324.5 374.4 323.6 374.52 322.88 374.82C322.16 375.12 321.56 375.42 321.08 375.9C320.6 376.38 320.25 376.89 320 377.7C319.75 378.51 319.62 379.65 319.56 380.76C319.5 381.87 319.51 383.16 319.64 384.36C319.77 385.56 319.94 386.88 320.36 387.96C320.78 389.04 321.44 390.06 322.16 390.84C322.88 391.62 323.78 392.22 324.68 392.64C325.58 393.06 326.72 393.32 327.56 393.38C328.4 393.44 329.03 393.33 329.72 393C330.41 392.67 331.13 392.12 331.7 391.4C332.27 390.68 332.78 389.73 333.14 388.68C333.5 387.63 333.71 386.34 333.86 385.08C334.01 383.82 334.07 382.38 334.04 381.12C334.01 379.86 333.86 378.6 333.68 377.52C333.5 376.44 333.26 375.39 332.96 374.64C332.66 373.89 332.3 373.35 331.88 373.02C331.46 372.69 331.04 372.66 330.44 372.66Z" fill="#05e0ea"/>
<path d="M336.2 331.3C333.2 331.3 329.6 331.9 325.4 333.1C321.2 334.3 315.5 337 311 338.5C306.5 340 302 340.6 298.4 342.1C294.8 343.6 291.8 345.1 289.4 347.5C287 349.9 285.27 352.45 284 356.5C282.73 360.55 282.1 366.25 281.8 371.8C281.5 377.35 281.53 383.8 282.2 389.8C282.87 395.8 283.7 402.4 285.8 407.8C287.9 413.2 291.2 418.3 294.8 422.2C298.4 426.1 302.9 429.08 307.4 431.2C311.9 433.32 317.6 434.6 321.8 434.9C326 435.2 329.15 434.65 332.6 433C336.05 431.35 339.65 428.6 342.5 425C345.35 421.4 347.9 416.67 349.7 411.4C351.5 406.13 352.55 399.7 353.3 393.4C354.05 387.1 354.35 379.9 354.2 373.6C354.05 367.3 353.3 361 352.4 355.6C351.5 350.2 350.3 344.95 348.8 341.2C347.3 337.45 345.5 334.75 343.4 333.1C341.3 331.45 339.2 331.3 336.2 331.3Z" fill="none" stroke="#fff" stroke-width="2"/>
<path d="M334.4 346.6C331.7 346.82 327.5 347.95 323.6 349.3C319.7 350.65 314.9 352.9 311 354.7C307.1 356.5 303.2 357.55 300.2 360.1C297.2 362.65 294.5 366.55 293 370C291.5 373.45 291.2 376.9 291.2 380.8C291.2 384.7 291.5 389.2 293 393.4C294.5 397.6 297.2 402.4 300.2 406C303.2 409.6 307.4 412.9 311 415C314.6 417.1 318.2 418.3 321.8 418.6C325.4 418.9 329.3 418.6 332.6 416.8C335.9 415 339.35 411.4 341.6 407.8C343.85 404.2 345.05 399.7 346.1 395.2C347.15 390.7 347.75 385.9 347.9 380.8C348.05 375.7 347.6 369.1 347 364.6C346.4 360.1 345.5 356.57 344.3 353.8C343.1 351.03 341.45 349.2 339.8 348C338.15 346.8 337.1 346.38 334.4 346.6Z" fill="none" stroke="#fff" stroke-width="2" stroke-dasharray="3.8 3.7"/>
<rect x="327" y="381.5" width="2.2" height="2.2" fill="#fff"/>
<g clip-path="url(#c41)">
<path d="M144.38 575.59C140.37 573.39 137.37 568.92 134.29 565.79C131.2 562.65 127.89 559.87 125.85 556.77C123.81 553.66 122.57 550.37 122.06 547.16C121.56 543.96 122 540.78 122.84 537.56C123.68 534.34 124.99 530.88 127.11 527.86C129.23 524.84 132.35 521.43 135.55 519.42C138.75 517.42 142.52 516.63 146.31 515.83C150.11 515.04 154.33 514.57 158.34 514.67C162.35 514.77 166.56 515.22 170.37 516.41C174.19 517.61 178.33 519.54 181.24 521.85C184.15 524.16 186.23 527.07 187.83 530.29C189.43 533.5 190.43 537.54 190.84 541.15C191.24 544.76 190.85 548.72 190.26 551.92C189.66 555.12 188.66 557.74 187.25 560.36C185.84 562.98 184.11 565.09 181.82 567.63C179.52 570.17 177.39 573.69 173.47 575.59C169.56 577.48 163.19 578.98 158.34 578.98C153.49 578.98 148.38 577.78 144.38 575.59Z" fill="#243388"/>
<path d="M146 571.62C142.53 569.72 139.94 565.85 137.26 563.14C134.59 560.42 131.72 558.01 129.96 555.32C128.19 552.64 127.11 549.78 126.68 547.01C126.25 544.24 126.62 541.48 127.35 538.69C128.08 535.91 129.21 532.91 131.05 530.29C132.88 527.67 135.58 524.72 138.36 522.98C141.13 521.25 144.39 520.56 147.68 519.88C150.97 519.19 154.62 518.78 158.1 518.87C161.57 518.95 165.21 519.34 168.51 520.38C171.82 521.42 175.4 523.08 177.92 525.08C180.44 527.09 182.25 529.61 183.63 532.39C185.02 535.18 185.89 538.68 186.24 541.8C186.59 544.92 186.25 548.35 185.73 551.12C185.21 553.9 184.35 556.16 183.13 558.43C181.91 560.7 180.41 562.53 178.42 564.73C176.44 566.93 174.59 569.98 171.2 571.62C167.81 573.26 162.3 574.56 158.1 574.56C153.9 574.56 149.47 573.52 146 571.62Z" fill="#2b58a0"/>
<path d="M147.25 568.57C144.19 566.89 141.91 563.49 139.55 561.1C137.2 558.7 134.67 556.58 133.12 554.21C131.56 551.85 130.61 549.33 130.23 546.89C129.85 544.45 130.18 542.02 130.82 539.56C131.46 537.11 132.46 534.47 134.08 532.16C135.69 529.86 138.07 527.25 140.52 525.72C142.96 524.19 145.83 523.59 148.73 522.99C151.63 522.38 154.85 522.02 157.91 522.1C160.96 522.17 164.17 522.52 167.08 523.43C169.99 524.34 173.15 525.81 175.37 527.57C177.59 529.34 179.18 531.56 180.4 534.01C181.62 536.47 182.39 539.55 182.7 542.3C183 545.05 182.71 548.07 182.25 550.51C181.8 552.96 181.03 554.95 179.96 556.95C178.88 558.95 177.57 560.57 175.81 562.5C174.06 564.44 172.43 567.13 169.45 568.57C166.47 570.01 161.61 571.16 157.91 571.16C154.21 571.16 150.31 570.25 147.25 568.57Z" fill="#2774b2"/>
<path d="M148.75 564.91C146.19 563.5 144.28 560.65 142.3 558.65C140.33 556.64 138.21 554.87 136.91 552.88C135.61 550.9 134.81 548.79 134.49 546.74C134.17 544.7 134.45 542.66 134.99 540.61C135.52 538.55 136.36 536.34 137.71 534.41C139.07 532.47 141.06 530.29 143.11 529.01C145.15 527.73 147.56 527.22 149.99 526.72C152.42 526.21 155.12 525.91 157.68 525.97C160.24 526.04 162.93 526.33 165.37 527.09C167.8 527.85 170.45 529.08 172.31 530.56C174.17 532.04 175.5 533.9 176.53 535.96C177.55 538.01 178.19 540.6 178.45 542.9C178.71 545.2 178.46 547.74 178.08 549.78C177.69 551.83 177.05 553.5 176.15 555.18C175.25 556.85 174.15 558.2 172.68 559.83C171.21 561.45 169.85 563.7 167.35 564.91C164.85 566.12 160.78 567.08 157.68 567.08C154.58 567.08 151.31 566.32 148.75 564.91Z" fill="#2188be"/>
<path d="M150.25 561.25C148.18 560.12 146.64 557.82 145.05 556.2C143.46 554.58 141.75 553.15 140.7 551.55C139.65 549.95 139.01 548.25 138.75 546.6C138.49 544.95 138.72 543.31 139.15 541.65C139.58 539.99 140.26 538.21 141.35 536.65C142.44 535.09 144.05 533.33 145.7 532.3C147.35 531.27 149.29 530.86 151.25 530.45C153.21 530.04 155.38 529.8 157.45 529.85C159.52 529.9 161.68 530.13 163.65 530.75C165.62 531.37 167.75 532.36 169.25 533.55C170.75 534.74 171.83 536.24 172.65 537.9C173.47 539.56 173.99 541.64 174.2 543.5C174.41 545.36 174.21 547.4 173.9 549.05C173.59 550.7 173.07 552.05 172.35 553.4C171.62 554.75 170.73 555.84 169.55 557.15C168.37 558.46 167.27 560.27 165.25 561.25C163.23 562.23 159.95 563 157.45 563C154.95 563 152.32 562.38 150.25 561.25Z" fill="#1a9eca"/>
<path d="M151.88 557.28C150.35 556.45 149.2 554.74 148.03 553.55C146.85 552.35 145.58 551.29 144.81 550.11C144.03 548.92 143.56 547.66 143.37 546.44C143.17 545.22 143.34 544.01 143.66 542.78C143.98 541.55 144.48 540.23 145.29 539.08C146.1 537.93 147.29 536.63 148.51 535.86C149.73 535.1 151.17 534.8 152.62 534.49C154.06 534.19 155.67 534.01 157.2 534.05C158.73 534.09 160.34 534.26 161.79 534.72C163.25 535.17 164.82 535.91 165.94 536.79C167.05 537.67 167.84 538.78 168.45 540.01C169.06 541.23 169.44 542.77 169.6 544.15C169.75 545.53 169.6 547.04 169.38 548.26C169.15 549.48 168.77 550.48 168.23 551.48C167.69 552.48 167.03 553.28 166.16 554.25C165.28 555.22 164.47 556.56 162.97 557.28C161.48 558.01 159.05 558.58 157.2 558.58C155.35 558.58 153.4 558.12 151.88 557.28Z" fill="#12b6d6"/>
<path d="M153.12 554.24C152.01 553.62 151.18 552.38 150.32 551.51C149.46 550.63 148.53 549.86 147.97 549C147.4 548.13 147.05 547.22 146.91 546.32C146.78 545.43 146.9 544.55 147.13 543.65C147.37 542.76 147.73 541.79 148.32 540.95C148.91 540.11 149.78 539.16 150.67 538.6C151.56 538.04 152.61 537.82 153.66 537.6C154.72 537.38 155.9 537.25 157.01 537.28C158.13 537.31 159.3 537.43 160.36 537.76C161.42 538.1 162.57 538.63 163.38 539.28C164.19 539.92 164.78 540.73 165.22 541.63C165.67 542.52 165.95 543.65 166.06 544.65C166.17 545.65 166.06 546.76 165.9 547.65C165.73 548.54 165.45 549.27 165.06 550C164.67 550.72 164.19 551.31 163.55 552.02C162.91 552.73 162.31 553.71 161.22 554.24C160.14 554.76 158.36 555.18 157.01 555.18C155.66 555.18 154.24 554.85 153.12 554.24Z" fill="#0ad0e2"/>
<path d="M154 552.1C153.17 551.65 152.56 550.73 151.92 550.08C151.28 549.43 150.6 548.86 150.18 548.22C149.76 547.58 149.5 546.9 149.4 546.24C149.3 545.58 149.39 544.92 149.56 544.26C149.73 543.6 150 542.88 150.44 542.26C150.88 541.64 151.52 540.93 152.18 540.52C152.84 540.11 153.62 539.94 154.4 539.78C155.18 539.62 156.05 539.52 156.88 539.54C157.71 539.56 158.57 539.65 159.36 539.9C160.15 540.15 161 540.54 161.6 541.02C162.2 541.5 162.63 542.1 162.96 542.76C163.29 543.42 163.5 544.26 163.58 545C163.66 545.74 163.58 546.56 163.46 547.22C163.34 547.88 163.13 548.42 162.84 548.96C162.55 549.5 162.19 549.94 161.72 550.46C161.25 550.98 160.81 551.71 160 552.1C159.19 552.49 157.88 552.8 156.88 552.8C155.88 552.8 154.83 552.55 154 552.1Z" fill="#05e0ea"/>
<path d="M144 576.5C139.87 574.23 136.78 569.63 133.6 566.4C130.42 563.17 127 560.3 124.9 557.1C122.8 553.9 121.52 550.5 121 547.2C120.48 543.9 120.93 540.62 121.8 537.3C122.67 533.98 124.02 530.42 126.2 527.3C128.38 524.18 131.6 520.67 134.9 518.6C138.2 516.53 142.08 515.72 146 514.9C149.92 514.08 154.27 513.6 158.4 513.7C162.53 513.8 166.87 514.27 170.8 515.5C174.73 516.73 179 518.72 182 521.1C185 523.48 187.15 526.48 188.8 529.8C190.45 533.12 191.48 537.28 191.9 541C192.32 544.72 191.92 548.8 191.3 552.1C190.68 555.4 189.65 558.1 188.2 560.8C186.75 563.5 184.97 565.68 182.6 568.3C180.23 570.92 178.03 574.55 174 576.5C169.97 578.45 163.4 580 158.4 580C153.4 580 148.13 578.77 144 576.5Z" fill="none" stroke="#fff" stroke-width="2"/>
<path d="M153.5 523C150.8 523.38 146.4 523.45 143.5 524.9C140.6 526.35 137.95 529.23 136.1 531.7C134.25 534.17 133.13 536.92 132.4 539.7C131.67 542.48 131.4 545.5 131.7 548.4C132 551.3 132.85 554.52 134.2 557.1C135.55 559.68 137.42 562.13 139.8 563.9C142.18 565.67 145.4 566.97 148.5 567.7C151.6 568.43 155.1 568.52 158.4 568.3C161.7 568.08 165.4 567.53 168.3 566.4C171.2 565.27 173.83 563.67 175.8 561.5C177.77 559.33 179.27 556.4 180.1 553.4C180.93 550.4 180.9 546.5 180.8 543.5C180.7 540.5 180.53 537.88 179.5 535.4C178.47 532.92 176.67 530.47 174.6 528.6C172.53 526.73 169.58 525.2 167.1 524.2C164.62 523.2 161.97 522.8 159.7 522.6C157.43 522.4 156.2 522.62 153.5 523Z" fill="none" stroke="#fff" stroke-width="2" stroke-dasharray="3.8 3.7"/>
<rect x="158.8" y="540.9" width="2.2" height="2.2" fill="#fff"/>
</g>
<g clip-path="url(#c42)">
<path d="M322 575.16C318.82 573.67 314.71 571.86 310.85 570.12C306.98 568.37 302.44 566.69 298.82 564.68C295.2 562.68 291.58 560.79 289.12 558.09C286.66 555.39 284.91 551.7 284.07 548.49C283.23 545.27 283.43 541.69 284.07 538.78C284.72 535.88 285.9 533.43 287.95 531.02C290.01 528.62 292.98 526.14 296.39 524.33C299.8 522.52 304.41 521.36 308.42 520.16C312.43 518.96 316.65 517.85 320.45 517.15C324.25 516.46 328.01 515.99 331.22 515.99C334.42 515.99 337.25 516.15 339.65 517.15C342.06 518.16 344.05 519.6 345.67 522C347.29 524.41 348.45 527.81 349.36 531.61C350.26 535.41 350.91 540.6 351.1 544.8C351.3 549 351.12 553.21 350.52 556.83C349.92 560.45 348.81 563.47 347.51 566.53C346.22 569.58 345.69 573.07 342.76 575.16C339.83 577.25 333.41 579.04 329.95 579.04C326.5 579.04 325.19 576.65 322 575.16Z" fill="#243388"/>
<path d="M322.87 571.52C320.11 570.23 316.56 568.66 313.21 567.15C309.87 565.64 305.93 564.18 302.8 562.45C299.66 560.71 296.52 559.07 294.4 556.74C292.27 554.4 290.76 551.21 290.03 548.42C289.3 545.63 289.47 542.54 290.03 540.02C290.59 537.5 291.61 535.39 293.39 533.3C295.17 531.21 297.74 529.07 300.7 527.5C303.65 525.94 307.64 524.93 311.11 523.89C314.58 522.86 318.24 521.89 321.53 521.29C324.82 520.69 328.08 520.28 330.85 520.28C333.62 520.28 336.07 520.42 338.16 521.29C340.25 522.16 341.97 523.4 343.37 525.49C344.77 527.57 345.78 530.51 346.56 533.8C347.34 537.09 347.9 541.59 348.07 545.23C348.24 548.87 348.09 552.51 347.57 555.64C347.05 558.78 346.08 561.4 344.96 564.04C343.84 566.69 343.38 569.71 340.85 571.52C338.31 573.33 332.76 574.88 329.76 574.88C326.76 574.88 325.63 572.81 322.87 571.52Z" fill="#2b58a0"/>
<path d="M323.54 568.72C321.11 567.59 317.98 566.2 315.03 564.87C312.08 563.54 308.62 562.26 305.86 560.73C303.09 559.2 300.33 557.76 298.46 555.7C296.58 553.64 295.25 550.82 294.61 548.37C293.97 545.92 294.11 543.19 294.61 540.97C295.1 538.75 296 536.89 297.57 535.05C299.13 533.21 301.4 531.33 304.01 529.94C306.61 528.56 310.12 527.67 313.18 526.76C316.24 525.85 319.46 525 322.36 524.47C325.26 523.94 328.13 523.58 330.57 523.58C333.01 523.58 335.17 523.7 337.01 524.47C338.85 525.23 340.36 526.33 341.6 528.17C342.83 530.01 343.72 532.6 344.41 535.49C345.1 538.39 345.59 542.35 345.74 545.56C345.89 548.76 345.75 551.97 345.3 554.73C344.84 557.5 343.99 559.8 343 562.13C342.02 564.47 341.61 567.13 339.38 568.72C337.15 570.31 332.25 571.68 329.61 571.68C326.97 571.68 325.97 569.85 323.54 568.72Z" fill="#2774b2"/>
<path d="M324.35 565.36C322.31 564.41 319.69 563.25 317.22 562.14C314.75 561.02 311.84 559.95 309.53 558.66C307.21 557.38 304.9 556.17 303.33 554.45C301.76 552.72 300.64 550.37 300.1 548.31C299.57 546.25 299.69 543.97 300.1 542.11C300.52 540.25 301.27 538.69 302.58 537.15C303.9 535.61 305.8 534.03 307.98 532.87C310.16 531.71 313.1 530.97 315.67 530.21C318.23 529.44 320.93 528.73 323.35 528.28C325.78 527.84 328.19 527.54 330.24 527.54C332.28 527.54 334.09 527.64 335.63 528.28C337.17 528.92 338.44 529.84 339.47 531.38C340.51 532.92 341.25 535.09 341.83 537.52C342.41 539.95 342.82 543.27 342.95 545.95C343.07 548.64 342.96 551.33 342.57 553.64C342.19 555.96 341.48 557.89 340.65 559.84C339.83 561.79 339.48 564.03 337.61 565.36C335.74 566.69 331.64 567.84 329.43 567.84C327.22 567.84 326.38 566.31 324.35 565.36Z" fill="#2188be"/>
<path d="M325.15 562C323.51 561.23 321.39 560.3 319.4 559.4C317.41 558.5 315.07 557.63 313.2 556.6C311.33 555.57 309.47 554.59 308.2 553.2C306.93 551.81 306.03 549.91 305.6 548.25C305.17 546.59 305.27 544.75 305.6 543.25C305.93 541.75 306.54 540.49 307.6 539.25C308.66 538.01 310.19 536.73 311.95 535.8C313.71 534.87 316.08 534.27 318.15 533.65C320.22 533.03 322.39 532.46 324.35 532.1C326.31 531.74 328.25 531.5 329.9 531.5C331.55 531.5 333.01 531.58 334.25 532.1C335.49 532.62 336.52 533.36 337.35 534.6C338.18 535.84 338.78 537.59 339.25 539.55C339.72 541.51 340.05 544.18 340.15 546.35C340.25 548.52 340.16 550.68 339.85 552.55C339.54 554.42 338.97 555.97 338.3 557.55C337.63 559.12 337.36 560.92 335.85 562C334.34 563.08 331.03 564 329.25 564C327.47 564 326.79 562.77 325.15 562Z" fill="#1a9eca"/>
<path d="M326.02 558.36C324.81 557.79 323.24 557.1 321.77 556.44C320.29 555.77 318.56 555.13 317.18 554.36C315.8 553.6 314.42 552.88 313.48 551.85C312.54 550.82 311.87 549.41 311.55 548.18C311.23 546.96 311.31 545.6 311.55 544.49C311.8 543.38 312.25 542.44 313.03 541.52C313.82 540.61 314.95 539.66 316.25 538.97C317.55 538.28 319.31 537.84 320.84 537.38C322.37 536.92 323.98 536.5 325.43 536.23C326.88 535.97 328.31 535.79 329.54 535.79C330.76 535.79 331.84 535.85 332.75 536.23C333.67 536.62 334.43 537.17 335.05 538.08C335.67 539 336.11 540.3 336.45 541.75C336.8 543.2 337.05 545.18 337.12 546.78C337.19 548.38 337.13 549.99 336.9 551.37C336.67 552.75 336.25 553.9 335.75 555.07C335.26 556.23 335.06 557.56 333.94 558.36C332.82 559.16 330.37 559.84 329.06 559.84C327.74 559.84 327.24 558.93 326.02 558.36Z" fill="#12b6d6"/>
<path d="M326.69 555.56C325.8 555.15 324.66 554.64 323.59 554.16C322.51 553.67 321.25 553.2 320.24 552.64C319.23 552.09 318.22 551.56 317.54 550.81C316.85 550.06 316.37 549.03 316.13 548.13C315.9 547.24 315.95 546.24 316.13 545.43C316.31 544.62 316.64 543.95 317.21 543.27C317.79 542.6 318.61 541.92 319.56 541.41C320.51 540.91 321.8 540.58 322.91 540.25C324.03 539.92 325.2 539.61 326.26 539.41C327.32 539.22 328.37 539.09 329.26 539.09C330.15 539.09 330.93 539.13 331.61 539.41C332.28 539.69 332.83 540.09 333.28 540.76C333.73 541.43 334.05 542.38 334.31 543.44C334.56 544.49 334.74 545.94 334.79 547.11C334.85 548.28 334.8 549.45 334.63 550.46C334.46 551.47 334.15 552.31 333.79 553.16C333.43 554.01 333.28 554.98 332.47 555.56C331.65 556.14 329.87 556.64 328.9 556.64C327.94 556.64 327.58 555.97 326.69 555.56Z" fill="#0ad0e2"/>
<path d="M327.16 553.6C326.5 553.29 325.66 552.92 324.86 552.56C324.06 552.2 323.13 551.85 322.38 551.44C321.63 551.03 320.89 550.64 320.38 550.08C319.87 549.52 319.51 548.76 319.34 548.1C319.17 547.44 319.21 546.7 319.34 546.1C319.47 545.5 319.72 545 320.14 544.5C320.56 544 321.18 543.49 321.88 543.12C322.58 542.75 323.53 542.51 324.36 542.26C325.19 542.01 326.06 541.78 326.84 541.64C327.62 541.5 328.4 541.4 329.06 541.4C329.72 541.4 330.3 541.43 330.8 541.64C331.3 541.85 331.71 542.14 332.04 542.64C332.37 543.14 332.61 543.84 332.8 544.62C332.99 545.4 333.12 546.47 333.16 547.34C333.2 548.21 333.16 549.07 333.04 549.82C332.92 550.57 332.69 551.19 332.42 551.82C332.15 552.45 332.04 553.17 331.44 553.6C330.84 554.03 329.51 554.4 328.8 554.4C328.09 554.4 327.82 553.91 327.16 553.6Z" fill="#05e0ea"/>
<path d="M321.8 576C318.52 574.47 314.28 572.6 310.3 570.8C306.32 569 301.63 567.27 297.9 565.2C294.17 563.13 290.43 561.18 287.9 558.4C285.37 555.62 283.57 551.82 282.7 548.5C281.83 545.18 282.03 541.5 282.7 538.5C283.37 535.5 284.58 532.98 286.7 530.5C288.82 528.02 291.88 525.47 295.4 523.6C298.92 521.73 303.67 520.53 307.8 519.3C311.93 518.07 316.28 516.92 320.2 516.2C324.12 515.48 328 515 331.3 515C334.6 515 337.52 515.17 340 516.2C342.48 517.23 344.53 518.72 346.2 521.2C347.87 523.68 349.07 527.18 350 531.1C350.93 535.02 351.6 540.37 351.8 544.7C352 549.03 351.82 553.37 351.2 557.1C350.58 560.83 349.43 563.95 348.1 567.1C346.77 570.25 346.22 573.85 343.2 576C340.18 578.15 333.57 580 330 580C326.43 580 325.08 577.53 321.8 576Z" fill="none" stroke="#fff" stroke-width="2"/>
<path d="M332.6 523C330.73 522.9 328 522.58 325.1 523C322.2 523.42 318.5 524.47 315.2 525.5C311.9 526.53 308.4 527.75 305.3 529.2C302.2 530.65 298.67 532.33 296.6 534.2C294.53 536.07 293.62 538.23 292.9 540.4C292.18 542.57 292 544.82 292.3 547.2C292.6 549.58 293.15 552.53 294.7 554.7C296.25 556.87 298.8 558.55 301.6 560.2C304.4 561.85 307.98 563.35 311.5 564.6C315.02 565.85 319.18 567.18 322.7 567.7C326.22 568.22 329.5 568.22 332.6 567.7C335.7 567.18 339.23 566.37 341.3 564.6C343.37 562.83 344.28 560 345 557.1C345.72 554.2 345.7 550.92 345.6 547.2C345.5 543.48 345.12 538.1 344.4 534.8C343.68 531.5 342.65 529.27 341.3 527.4C339.95 525.53 337.75 524.33 336.3 523.6C334.85 522.87 334.47 523.1 332.6 523Z" fill="none" stroke="#fff" stroke-width="2" stroke-dasharray="3.8 3.7"/>
<rect x="327.1" y="546.1" width="2.2" height="2.2" fill="#fff"/>
</g>
<g clip-path="url(#c43)">
<path d="M426.5 575.26C419.96 573.26 418.99 569.61 415.44 567.12C411.9 564.63 407.94 562.88 405.26 560.33C402.58 557.77 400.62 554.91 399.34 551.79C398.07 548.67 397.6 545 397.6 541.61C397.6 538.21 398.07 534.4 399.34 531.42C400.62 528.45 402.58 525.89 405.26 523.76C407.94 521.62 411.48 519.89 415.44 518.62C419.41 517.34 424.48 516.66 429.02 516.1C433.57 515.53 438.16 515.08 442.7 515.22C447.24 515.37 451.76 515.84 456.28 516.97C460.81 518.1 465.61 520.04 469.86 522.01C474.11 523.98 478.11 525.96 481.79 528.8C485.48 531.65 489.15 535.67 491.98 539.08C494.81 542.5 497.36 546.29 498.77 549.27C500.17 552.24 500.56 554.52 500.42 556.93C500.27 559.34 499.3 561.9 497.89 563.72C496.49 565.55 494.48 565.97 491.98 567.89C489.47 569.82 489.07 573.39 482.86 575.26C476.65 577.14 464.12 579.14 454.73 579.14C445.34 579.14 433.05 577.27 426.5 575.26Z" fill="#243388"/>
<path d="M429.12 572.08C423.45 570.34 422.61 567.18 419.54 565.02C416.47 562.87 413.04 561.36 410.72 559.14C408.4 556.93 406.7 554.45 405.6 551.75C404.49 549.05 404.08 545.87 404.08 542.93C404.08 539.99 404.49 536.69 405.6 534.11C406.7 531.54 408.4 529.32 410.72 527.48C413.04 525.63 416.11 524.13 419.54 523.02C422.97 521.92 427.37 521.33 431.3 520.84C435.23 520.35 439.21 519.96 443.14 520.08C447.08 520.21 450.98 520.62 454.9 521.6C458.82 522.58 462.98 524.26 466.66 525.96C470.35 527.67 473.8 529.38 477 531.84C480.19 534.31 483.37 537.79 485.82 540.75C488.27 543.7 490.48 546.99 491.7 549.57C492.91 552.14 493.25 554.12 493.12 556.2C493 558.29 492.16 560.5 490.94 562.08C489.72 563.67 487.99 564.03 485.82 565.7C483.65 567.36 483.3 570.46 477.92 572.08C472.54 573.7 461.69 575.44 453.56 575.44C445.43 575.44 434.79 573.82 429.12 572.08Z" fill="#2b58a0"/>
<path d="M431.13 569.63C426.13 568.1 425.39 565.31 422.69 563.41C419.99 561.51 416.97 560.18 414.92 558.23C412.87 556.29 411.38 554.1 410.41 551.72C409.43 549.34 409.07 546.54 409.07 543.95C409.07 541.36 409.43 538.45 410.41 536.18C411.38 533.91 412.87 531.96 414.92 530.34C416.97 528.71 419.67 527.39 422.69 526.41C425.71 525.44 429.58 524.92 433.05 524.49C436.52 524.06 440.02 523.71 443.48 523.82C446.95 523.94 450.39 524.29 453.84 525.16C457.3 526.02 460.96 527.5 464.2 529C467.45 530.51 470.49 532.01 473.31 534.18C476.12 536.35 478.92 539.43 481.08 542.03C483.23 544.63 485.18 547.53 486.26 549.8C487.33 552.07 487.62 553.81 487.51 555.64C487.4 557.48 486.66 559.43 485.59 560.82C484.52 562.22 482.99 562.54 481.08 564.01C479.16 565.47 478.86 568.2 474.12 569.63C469.38 571.06 459.83 572.59 452.66 572.59C445.49 572.59 436.12 571.16 431.13 569.63Z" fill="#2774b2"/>
<path d="M433.54 566.69C429.35 565.41 428.73 563.07 426.47 561.48C424.21 559.89 421.68 558.77 419.96 557.14C418.24 555.51 416.99 553.68 416.18 551.69C415.36 549.69 415.06 547.35 415.06 545.18C415.06 543.01 415.36 540.57 416.18 538.67C416.99 536.76 418.24 535.13 419.96 533.77C421.68 532.4 423.94 531.3 426.47 530.48C429 529.67 432.25 529.23 435.15 528.87C438.05 528.51 440.99 528.22 443.89 528.31C446.8 528.4 449.68 528.7 452.57 529.43C455.47 530.15 458.53 531.39 461.25 532.65C463.97 533.91 466.52 535.17 468.88 536.99C471.23 538.81 473.58 541.38 475.39 543.56C477.2 545.74 478.83 548.17 479.73 550.07C480.63 551.98 480.88 553.43 480.78 554.97C480.69 556.51 480.07 558.14 479.17 559.31C478.27 560.48 476.99 560.75 475.39 561.98C473.79 563.21 473.53 565.49 469.56 566.69C465.59 567.89 457.58 569.17 451.58 569.17C445.58 569.17 437.72 567.97 433.54 566.69Z" fill="#2188be"/>
<path d="M435.95 563.75C432.57 562.72 432.07 560.83 430.25 559.55C428.43 558.27 426.38 557.37 425 556.05C423.62 554.73 422.61 553.26 421.95 551.65C421.29 550.04 421.05 548.15 421.05 546.4C421.05 544.65 421.29 542.68 421.95 541.15C422.61 539.62 423.62 538.3 425 537.2C426.38 536.1 428.21 535.21 430.25 534.55C432.29 533.89 434.91 533.54 437.25 533.25C439.59 532.96 441.96 532.72 444.3 532.8C446.64 532.88 448.97 533.12 451.3 533.7C453.63 534.28 456.11 535.28 458.3 536.3C460.49 537.32 462.55 538.33 464.45 539.8C466.35 541.27 468.24 543.34 469.7 545.1C471.16 546.86 472.47 548.82 473.2 550.35C473.93 551.88 474.12 553.06 474.05 554.3C473.98 555.54 473.48 556.86 472.75 557.8C472.02 558.74 470.99 558.96 469.7 559.95C468.41 560.94 468.2 562.78 465 563.75C461.8 564.72 455.34 565.75 450.5 565.75C445.66 565.75 439.32 564.78 435.95 563.75Z" fill="#1a9eca"/>
<path d="M438.56 560.57C436.07 559.8 435.7 558.41 434.35 557.46C432.99 556.51 431.48 555.84 430.46 554.87C429.44 553.89 428.69 552.8 428.2 551.61C427.72 550.42 427.54 549.02 427.54 547.73C427.54 546.43 427.72 544.98 428.2 543.84C428.69 542.71 429.44 541.73 430.46 540.92C431.48 540.1 432.83 539.44 434.35 538.96C435.86 538.47 437.79 538.21 439.52 538C441.26 537.78 443.01 537.61 444.74 537.66C446.47 537.72 448.2 537.9 449.92 538.33C451.65 538.76 453.48 539.5 455.1 540.25C456.72 541 458.25 541.76 459.65 542.84C461.06 543.93 462.46 545.46 463.54 546.76C464.62 548.07 465.59 549.51 466.13 550.65C466.66 551.78 466.81 552.65 466.76 553.57C466.7 554.49 466.33 555.47 465.8 556.16C465.26 556.86 464.49 557.02 463.54 557.75C462.58 558.49 462.43 559.85 460.06 560.57C457.69 561.28 452.91 562.04 449.33 562.04C445.75 562.04 441.06 561.33 438.56 560.57Z" fill="#12b6d6"/>
<path d="M440.57 558.12C438.75 557.56 438.48 556.54 437.5 555.85C436.51 555.15 435.41 554.67 434.66 553.96C433.91 553.25 433.37 552.45 433.01 551.58C432.66 550.71 432.53 549.69 432.53 548.75C432.53 547.8 432.66 546.74 433.01 545.91C433.37 545.08 433.91 544.37 434.66 543.78C435.41 543.18 436.39 542.7 437.5 542.35C438.6 541.99 440.01 541.8 441.27 541.64C442.54 541.49 443.82 541.36 445.08 541.4C446.35 541.44 447.6 541.57 448.86 541.89C450.12 542.2 451.46 542.74 452.64 543.29C453.83 543.84 454.94 544.39 455.96 545.18C456.99 545.97 458.01 547.09 458.8 548.04C459.59 548.99 460.3 550.05 460.69 550.88C461.08 551.71 461.19 552.34 461.15 553.01C461.11 553.68 460.84 554.39 460.44 554.9C460.05 555.41 459.5 555.53 458.8 556.06C458.1 556.6 457.99 557.59 456.26 558.12C454.53 558.64 451.04 559.2 448.43 559.2C445.82 559.2 442.4 558.67 440.57 558.12Z" fill="#0ad0e2"/>
<path d="M441.98 556.4C440.63 555.99 440.43 555.23 439.7 554.72C438.97 554.21 438.15 553.85 437.6 553.32C437.05 552.79 436.64 552.2 436.38 551.56C436.12 550.92 436.02 550.16 436.02 549.46C436.02 548.76 436.12 547.97 436.38 547.36C436.64 546.75 437.05 546.22 437.6 545.78C438.15 545.34 438.88 544.98 439.7 544.72C440.52 544.46 441.56 544.32 442.5 544.2C443.44 544.08 444.38 543.99 445.32 544.02C446.26 544.05 447.19 544.15 448.12 544.38C449.05 544.61 450.04 545.01 450.92 545.42C451.8 545.83 452.62 546.23 453.38 546.82C454.14 547.41 454.9 548.24 455.48 548.94C456.06 549.64 456.59 550.43 456.88 551.04C457.17 551.65 457.25 552.12 457.22 552.62C457.19 553.12 456.99 553.64 456.7 554.02C456.41 554.4 456 554.48 455.48 554.88C454.96 555.28 454.88 556.01 453.6 556.4C452.32 556.79 449.74 557.2 447.8 557.2C445.86 557.2 443.33 556.81 441.98 556.4Z" fill="#05e0ea"/>
<path d="M425.9 576C419.15 573.93 418.15 570.17 414.5 567.6C410.85 565.03 406.77 563.23 404 560.6C401.23 557.97 399.22 555.02 397.9 551.8C396.58 548.58 396.1 544.8 396.1 541.3C396.1 537.8 396.58 533.87 397.9 530.8C399.22 527.73 401.23 525.1 404 522.9C406.77 520.7 410.42 518.92 414.5 517.6C418.58 516.28 423.82 515.58 428.5 515C433.18 514.42 437.92 513.95 442.6 514.1C447.28 514.25 451.93 514.73 456.6 515.9C461.27 517.07 466.22 519.07 470.6 521.1C474.98 523.13 479.1 525.17 482.9 528.1C486.7 531.03 490.48 535.18 493.4 538.7C496.32 542.22 498.95 546.13 500.4 549.2C501.85 552.27 502.25 554.62 502.1 557.1C501.95 559.58 500.95 562.22 499.5 564.1C498.05 565.98 495.98 566.42 493.4 568.4C490.82 570.38 490.4 574.07 484 576C477.6 577.93 464.68 580 455 580C445.32 580 432.65 578.07 425.9 576Z" fill="none" stroke="#fff" stroke-width="2"/>
<path d="M439.1 523.4C434.72 523.48 428.8 523.52 425 524.6C421.2 525.68 418.48 527.55 416.3 529.9C414.12 532.25 412.63 535.63 411.9 538.7C411.17 541.77 411.17 545.23 411.9 548.3C412.63 551.37 414.12 554.47 416.3 557.1C418.48 559.73 421.5 562.22 425 564.1C428.5 565.98 432.92 567.38 437.3 568.4C441.68 569.42 446.33 570.2 451.3 570.2C456.27 570.2 462.43 569.42 467.1 568.4C471.77 567.38 476.23 565.98 479.3 564.1C482.37 562.22 484.47 559.58 485.5 557.1C486.53 554.62 486.23 551.83 485.5 549.2C484.77 546.57 483.3 544.08 481.1 541.3C478.9 538.52 475.52 534.9 472.3 532.5C469.08 530.1 465.3 528.3 461.8 526.9C458.3 525.5 455.08 524.68 451.3 524.1C447.52 523.52 443.48 523.32 439.1 523.4Z" fill="none" stroke="#fff" stroke-width="2" stroke-dasharray="3.8 3.7"/>
<rect x="446.4" y="550.7" width="2.2" height="2.2" fill="#fff"/>
</g>
<g clip-path="url(#c41)"><path d="M147 446.5Q159 448.5 171 446.5" stroke="#243388" stroke-width="2.2" fill="none"/><path d="M153.8 445.8Q160 450 166.9 445.8" stroke="#fff" stroke-width="1.8" fill="none"/></g>
<g clip-path="url(#c42)"><path d="M321 447.5Q333 449.5 346 447.5" stroke="#243388" stroke-width="2.2" fill="none"/><path d="M332.6 447H338.7" stroke="#fff" stroke-width="1.8" fill="none"/></g>
<g clip-path="url(#c43)"><path d="M435.5 446.3Q454 452 474 446.3" stroke="#fff" stroke-width="1.8" fill="none"/></g>
<path d="M109.23 297.5v-3.7M134.06 297.5v-3.7M158.89 297.5v-3.7M183.72 297.5v-3.7M208.55 297.5v-3.7M90.61 297.5v-2M96.81 297.5v-2M103.02 297.5v-2M115.44 297.5v-2M121.65 297.5v-2M127.85 297.5v-2M140.27 297.5v-2M146.47 297.5v-2M152.68 297.5v-2M165.1 297.5v-2M171.31 297.5v-2M177.51 297.5v-2M189.93 297.5v-2M196.13 297.5v-2M202.34 297.5v-2M214.76 297.5v-2M220.97 297.5v-2M227.17 297.5v-2M109.23 148.5v3.7M134.06 148.5v3.7M158.89 148.5v3.7M183.72 148.5v3.7M208.55 148.5v3.7M90.61 148.5v2M96.81 148.5v2M103.02 148.5v2M115.44 148.5v2M121.65 148.5v2M127.85 148.5v2M140.27 148.5v2M146.47 148.5v2M152.68 148.5v2M165.1 148.5v2M171.31 148.5v2M177.51 148.5v2M189.93 148.5v2M196.13 148.5v2M202.34 148.5v2M214.76 148.5v2M220.97 148.5v2M227.17 148.5v2M84.5 151.65h5M84.5 175.9h5M84.5 200.15h5M84.5 224.4h5M84.5 248.65h5M84.5 272.9h5M84.5 156.5h2.5M84.5 161.35h2.5M84.5 166.2h2.5M84.5 171.05h2.5M84.5 180.75h2.5M84.5 185.6h2.5M84.5 190.45h2.5M84.5 195.3h2.5M84.5 205h2.5M84.5 209.85h2.5M84.5 214.7h2.5M84.5 219.55h2.5M84.5 229.25h2.5M84.5 234.1h2.5M84.5 238.95h2.5M84.5 243.8h2.5M84.5 253.5h2.5M84.5 258.35h2.5M84.5 263.2h2.5M84.5 268.05h2.5M84.5 277.75h2.5M84.5 282.6h2.5M84.5 287.45h2.5M84.5 292.3h2.5M233.5 151.65h-5M233.5 175.9h-5M233.5 200.15h-5M233.5 224.4h-5M233.5 248.65h-5M233.5 272.9h-5M233.5 156.5h-2.5M233.5 161.35h-2.5M233.5 166.2h-2.5M233.5 171.05h-2.5M233.5 180.75h-2.5M233.5 185.6h-2.5M233.5 190.45h-2.5M233.5 195.3h-2.5M233.5 205h-2.5M233.5 209.85h-2.5M233.5 214.7h-2.5M233.5 219.55h-2.5M233.5 229.25h-2.5M233.5 234.1h-2.5M233.5 238.95h-2.5M233.5 243.8h-2.5M233.5 253.5h-2.5M233.5 258.35h-2.5M233.5 263.2h-2.5M233.5 268.05h-2.5M233.5 277.75h-2.5M233.5 282.6h-2.5M233.5 287.45h-2.5M233.5 292.3h-2.5M109.23 445.5v-3.7M134.06 445.5v-3.7M158.89 445.5v-3.7M183.72 445.5v-3.7M208.55 445.5v-3.7M90.61 445.5v-2M96.81 445.5v-2M103.02 445.5v-2M115.44 445.5v-2M121.65 445.5v-2M127.85 445.5v-2M140.27 445.5v-2M146.47 445.5v-2M152.68 445.5v-2M165.1 445.5v-2M171.31 445.5v-2M177.51 445.5v-2M189.93 445.5v-2M196.13 445.5v-2M202.34 445.5v-2M214.76 445.5v-2M220.97 445.5v-2M227.17 445.5v-2M109.23 297.5v3.7M134.06 297.5v3.7M158.89 297.5v3.7M183.72 297.5v3.7M208.55 297.5v3.7M90.61 297.5v2M96.81 297.5v2M103.02 297.5v2M115.44 297.5v2M121.65 297.5v2M127.85 297.5v2M140.27 297.5v2M146.47 297.5v2M152.68 297.5v2M165.1 297.5v2M171.31 297.5v2M177.51 297.5v2M189.93 297.5v2M196.13 297.5v2M202.34 297.5v2M214.76 297.5v2M220.97 297.5v2M227.17 297.5v2M84.5 322.4h5M84.5 346.9h5M84.5 371.4h5M84.5 395.9h5M84.5 420.4h5M84.5 444.9h5M84.5 302.8h2.5M84.5 307.7h2.5M84.5 312.6h2.5M84.5 317.5h2.5M84.5 327.3h2.5M84.5 332.2h2.5M84.5 337.1h2.5M84.5 342h2.5M84.5 351.8h2.5M84.5 356.7h2.5M84.5 361.6h2.5M84.5 366.5h2.5M84.5 376.3h2.5M84.5 381.2h2.5M84.5 386.1h2.5M84.5 391h2.5M84.5 400.8h2.5M84.5 405.7h2.5M84.5 410.6h2.5M84.5 415.5h2.5M84.5 425.3h2.5M84.5 430.2h2.5M84.5 435.1h2.5M84.5 440h2.5M233.5 322.4h-5M233.5 346.9h-5M233.5 371.4h-5M233.5 395.9h-5M233.5 420.4h-5M233.5 444.9h-5M233.5 302.8h-2.5M233.5 307.7h-2.5M233.5 312.6h-2.5M233.5 317.5h-2.5M233.5 327.3h-2.5M233.5 332.2h-2.5M233.5 337.1h-2.5M233.5 342h-2.5M233.5 351.8h-2.5M233.5 356.7h-2.5M233.5 361.6h-2.5M233.5 366.5h-2.5M233.5 376.3h-2.5M233.5 381.2h-2.5M233.5 386.1h-2.5M233.5 391h-2.5M233.5 400.8h-2.5M233.5 405.7h-2.5M233.5 410.6h-2.5M233.5 415.5h-2.5M233.5 425.3h-2.5M233.5 430.2h-2.5M233.5 435.1h-2.5M233.5 440h-2.5M258.4 445.5v-3.7M283.4 445.5v-3.7M308.4 445.5v-3.7M333.4 445.5v-3.7M358.4 445.5v-3.7M238.4 445.5v-2M243.4 445.5v-2M248.4 445.5v-2M253.4 445.5v-2M263.4 445.5v-2M268.4 445.5v-2M273.4 445.5v-2M278.4 445.5v-2M288.4 445.5v-2M293.4 445.5v-2M298.4 445.5v-2M303.4 445.5v-2M313.4 445.5v-2M318.4 445.5v-2M323.4 445.5v-2M328.4 445.5v-2M338.4 445.5v-2M343.4 445.5v-2M348.4 445.5v-2M353.4 445.5v-2M363.4 445.5v-2M368.4 445.5v-2M373.4 445.5v-2M378.4 445.5v-2M258.4 297.5v3.7M283.4 297.5v3.7M308.4 297.5v3.7M333.4 297.5v3.7M358.4 297.5v3.7M238.4 297.5v2M243.4 297.5v2M248.4 297.5v2M253.4 297.5v2M263.4 297.5v2M268.4 297.5v2M273.4 297.5v2M278.4 297.5v2M288.4 297.5v2M293.4 297.5v2M298.4 297.5v2M303.4 297.5v2M313.4 297.5v2M318.4 297.5v2M323.4 297.5v2M328.4 297.5v2M338.4 297.5v2M343.4 297.5v2M348.4 297.5v2M353.4 297.5v2M363.4 297.5v2M368.4 297.5v2M373.4 297.5v2M378.4 297.5v2M233.5 322.4h5M233.5 346.9h5M233.5 371.4h5M233.5 395.9h5M233.5 420.4h5M233.5 444.9h5M233.5 302.8h2.5M233.5 307.7h2.5M233.5 312.6h2.5M233.5 317.5h2.5M233.5 327.3h2.5M233.5 332.2h2.5M233.5 337.1h2.5M233.5 342h2.5M233.5 351.8h2.5M233.5 356.7h2.5M233.5 361.6h2.5M233.5 366.5h2.5M233.5 376.3h2.5M233.5 381.2h2.5M233.5 386.1h2.5M233.5 391h2.5M233.5 400.8h2.5M233.5 405.7h2.5M233.5 410.6h2.5M233.5 415.5h2.5M233.5 425.3h2.5M233.5 430.2h2.5M233.5 435.1h2.5M233.5 440h2.5M383.5 322.4h-5M383.5 346.9h-5M383.5 371.4h-5M383.5 395.9h-5M383.5 420.4h-5M383.5 444.9h-5M383.5 302.8h-2.5M383.5 307.7h-2.5M383.5 312.6h-2.5M383.5 317.5h-2.5M383.5 327.3h-2.5M383.5 332.2h-2.5M383.5 337.1h-2.5M383.5 342h-2.5M383.5 351.8h-2.5M383.5 356.7h-2.5M383.5 361.6h-2.5M383.5 366.5h-2.5M383.5 376.3h-2.5M383.5 381.2h-2.5M383.5 386.1h-2.5M383.5 391h-2.5M383.5 400.8h-2.5M383.5 405.7h-2.5M383.5 410.6h-2.5M383.5 415.5h-2.5M383.5 425.3h-2.5M383.5 430.2h-2.5M383.5 435.1h-2.5M383.5 440h-2.5M109.23 574.5v-3.7M134.06 574.5v-3.7M158.89 574.5v-3.7M183.72 574.5v-3.7M208.55 574.5v-3.7M90.61 574.5v-2M96.81 574.5v-2M103.02 574.5v-2M115.44 574.5v-2M121.65 574.5v-2M127.85 574.5v-2M140.27 574.5v-2M146.47 574.5v-2M152.68 574.5v-2M165.1 574.5v-2M171.31 574.5v-2M177.51 574.5v-2M189.93 574.5v-2M196.13 574.5v-2M202.34 574.5v-2M214.76 574.5v-2M220.97 574.5v-2M227.17 574.5v-2M109.23 445.5v3.7M134.06 445.5v3.7M158.89 445.5v3.7M183.72 445.5v3.7M208.55 445.5v3.7M90.61 445.5v2M96.81 445.5v2M103.02 445.5v2M115.44 445.5v2M121.65 445.5v2M127.85 445.5v2M140.27 445.5v2M146.47 445.5v2M152.68 445.5v2M165.1 445.5v2M171.31 445.5v2M177.51 445.5v2M189.93 445.5v2M196.13 445.5v2M202.34 445.5v2M214.76 445.5v2M220.97 445.5v2M227.17 445.5v2M84.5 477.65h5M84.5 509.9h5M84.5 542.15h5M84.5 461.52h2.5M84.5 493.77h2.5M84.5 526.02h2.5M84.5 558.27h2.5M233.5 477.65h-5M233.5 509.9h-5M233.5 542.15h-5M233.5 461.52h-2.5M233.5 493.77h-2.5M233.5 526.02h-2.5M233.5 558.27h-2.5M258.4 574.5v-3.7M283.4 574.5v-3.7M308.4 574.5v-3.7M333.4 574.5v-3.7M358.4 574.5v-3.7M238.4 574.5v-2M243.4 574.5v-2M248.4 574.5v-2M253.4 574.5v-2M263.4 574.5v-2M268.4 574.5v-2M273.4 574.5v-2M278.4 574.5v-2M288.4 574.5v-2M293.4 574.5v-2M298.4 574.5v-2M303.4 574.5v-2M313.4 574.5v-2M318.4 574.5v-2M323.4 574.5v-2M328.4 574.5v-2M338.4 574.5v-2M343.4 574.5v-2M348.4 574.5v-2M353.4 574.5v-2M363.4 574.5v-2M368.4 574.5v-2M373.4 574.5v-2M378.4 574.5v-2M258.4 445.5v3.7M283.4 445.5v3.7M308.4 445.5v3.7M333.4 445.5v3.7M358.4 445.5v3.7M238.4 445.5v2M243.4 445.5v2M248.4 445.5v2M253.4 445.5v2M263.4 445.5v2M268.4 445.5v2M273.4 445.5v2M278.4 445.5v2M288.4 445.5v2M293.4 445.5v2M298.4 445.5v2M303.4 445.5v2M313.4 445.5v2M318.4 445.5v2M323.4 445.5v2M328.4 445.5v2M338.4 445.5v2M343.4 445.5v2M348.4 445.5v2M353.4 445.5v2M363.4 445.5v2M368.4 445.5v2M373.4 445.5v2M378.4 445.5v2M233.5 477.65h5M233.5 509.9h5M233.5 542.15h5M233.5 461.52h2.5M233.5 493.77h2.5M233.5 526.02h2.5M233.5 558.27h2.5M383.5 477.65h-5M383.5 509.9h-5M383.5 542.15h-5M383.5 461.52h-2.5M383.5 493.77h-2.5M383.5 526.02h-2.5M383.5 558.27h-2.5M408.4 574.5v-3.7M433.4 574.5v-3.7M458.4 574.5v-3.7M483.4 574.5v-3.7M508.4 574.5v-3.7M388.4 574.5v-2M393.4 574.5v-2M398.4 574.5v-2M403.4 574.5v-2M413.4 574.5v-2M418.4 574.5v-2M423.4 574.5v-2M428.4 574.5v-2M438.4 574.5v-2M443.4 574.5v-2M448.4 574.5v-2M453.4 574.5v-2M463.4 574.5v-2M468.4 574.5v-2M473.4 574.5v-2M478.4 574.5v-2M488.4 574.5v-2M493.4 574.5v-2M498.4 574.5v-2M503.4 574.5v-2M513.4 574.5v-2M518.4 574.5v-2M523.4 574.5v-2M528.4 574.5v-2M408.4 445.5v3.7M433.4 445.5v3.7M458.4 445.5v3.7M483.4 445.5v3.7M508.4 445.5v3.7M388.4 445.5v2M393.4 445.5v2M398.4 445.5v2M403.4 445.5v2M413.4 445.5v2M418.4 445.5v2M423.4 445.5v2M428.4 445.5v2M438.4 445.5v2M443.4 445.5v2M448.4 445.5v2M453.4 445.5v2M463.4 445.5v2M468.4 445.5v2M473.4 445.5v2M478.4 445.5v2M488.4 445.5v2M493.4 445.5v2M498.4 445.5v2M503.4 445.5v2M513.4 445.5v2M518.4 445.5v2M523.4 445.5v2M528.4 445.5v2M383.5 477.65h5M383.5 509.9h5M383.5 542.15h5M383.5 461.52h2.5M383.5 493.77h2.5M383.5 526.02h2.5M383.5 558.27h2.5M533.5 477.65h-5M533.5 509.9h-5M533.5 542.15h-5M533.5 461.52h-2.5M533.5 493.77h-2.5M533.5 526.02h-2.5M533.5 558.27h-2.5M84.5 3h5M84.5 27.25h5M84.5 51.5h5M84.5 75.75h5M84.5 100h5M84.5 124.25h5M84.5 7.85h2.5M84.5 12.7h2.5M84.5 17.55h2.5M84.5 22.4h2.5M84.5 32.1h2.5M84.5 36.95h2.5M84.5 41.8h2.5M84.5 46.65h2.5M84.5 56.35h2.5M84.5 61.2h2.5M84.5 66.05h2.5M84.5 70.9h2.5M84.5 80.6h2.5M84.5 85.45h2.5M84.5 90.3h2.5M84.5 95.15h2.5M84.5 104.85h2.5M84.5 109.7h2.5M84.5 114.55h2.5M84.5 119.4h2.5M84.5 129.1h2.5M84.5 133.95h2.5M84.5 138.8h2.5M84.5 143.65h2.5M233.5 3h-5M233.5 27.25h-5M233.5 51.5h-5M233.5 75.75h-5M233.5 100h-5M233.5 124.25h-5M233.5 7.85h-2.5M233.5 12.7h-2.5M233.5 17.55h-2.5M233.5 22.4h-2.5M233.5 32.1h-2.5M233.5 36.95h-2.5M233.5 41.8h-2.5M233.5 46.65h-2.5M233.5 56.35h-2.5M233.5 61.2h-2.5M233.5 66.05h-2.5M233.5 70.9h-2.5M233.5 80.6h-2.5M233.5 85.45h-2.5M233.5 90.3h-2.5M233.5 95.15h-2.5M233.5 104.85h-2.5M233.5 109.7h-2.5M233.5 114.55h-2.5M233.5 119.4h-2.5M233.5 129.1h-2.5M233.5 133.95h-2.5M233.5 138.8h-2.5M233.5 143.65h-2.5M134.2 148.5v-2M183.7 148.5v-2M90.89 148.5v-1M97.07 148.5v-1M103.26 148.5v-1M109.45 148.5v-1M115.64 148.5v-1M121.82 148.5v-1M128.01 148.5v-1M140.39 148.5v-1M146.57 148.5v-1M152.76 148.5v-1M158.95 148.5v-1M165.14 148.5v-1M171.32 148.5v-1M177.51 148.5v-1M189.89 148.5v-1M196.07 148.5v-1M202.26 148.5v-1M208.45 148.5v-1M214.64 148.5v-1M220.82 148.5v-1M227.01 148.5v-1M134.2 0.5v2.3M183.7 0.5v2.3M233.5 171.15h5M233.5 196.4h5M233.5 221.65h5M233.5 246.9h5M233.5 272.15h5M233.5 152.21h2.5M233.5 158.52h2.5M233.5 164.84h2.5M233.5 177.46h2.5M233.5 183.77h2.5M233.5 190.09h2.5M233.5 202.71h2.5M233.5 209.02h2.5M233.5 215.34h2.5M233.5 227.96h2.5M233.5 234.27h2.5M233.5 240.59h2.5M233.5 253.21h2.5M233.5 259.52h2.5M233.5 265.84h2.5M233.5 278.46h2.5M233.5 284.77h2.5M233.5 291.09h2.5M383.5 171.15h-5M383.5 196.4h-5M383.5 221.65h-5M383.5 246.9h-5M383.5 272.15h-5M383.5 152.21h-2.5M383.5 158.52h-2.5M383.5 164.84h-2.5M383.5 177.46h-2.5M383.5 183.77h-2.5M383.5 190.09h-2.5M383.5 202.71h-2.5M383.5 209.02h-2.5M383.5 215.34h-2.5M383.5 227.96h-2.5M383.5 234.27h-2.5M383.5 240.59h-2.5M383.5 253.21h-2.5M383.5 259.52h-2.5M383.5 265.84h-2.5M383.5 278.46h-2.5M383.5 284.77h-2.5M383.5 291.09h-2.5M248.2 297.5v-5M278.2 297.5v-5M308.2 297.5v-5M338.2 297.5v-5M368.2 297.5v-5M236.2 297.5v-2.6M242.2 297.5v-2.6M254.2 297.5v-2.6M260.2 297.5v-2.6M266.2 297.5v-2.6M272.2 297.5v-2.6M284.2 297.5v-2.6M290.2 297.5v-2.6M296.2 297.5v-2.6M302.2 297.5v-2.6M314.2 297.5v-2.6M320.2 297.5v-2.6M326.2 297.5v-2.6M332.2 297.5v-2.6M344.2 297.5v-2.6M350.2 297.5v-2.6M356.2 297.5v-2.6M362.2 297.5v-2.6M374.2 297.5v-2.6M380.2 297.5v-2.6M248.2 148.5v5M278.2 148.5v5M308.2 148.5v5M338.2 148.5v5M368.2 148.5v5M236.2 148.5v2.6M242.2 148.5v2.6M254.2 148.5v2.6M260.2 148.5v2.6M266.2 148.5v2.6M272.2 148.5v2.6M284.2 148.5v2.6M290.2 148.5v2.6M296.2 148.5v2.6M302.2 148.5v2.6M314.2 148.5v2.6M320.2 148.5v2.6M326.2 148.5v2.6M332.2 148.5v2.6M344.2 148.5v2.6M350.2 148.5v2.6M356.2 148.5v2.6M362.2 148.5v2.6M374.2 148.5v2.6M380.2 148.5v2.6M383.5 314.3h5M383.5 336.15h5M383.5 358h5M383.5 379.85h5M383.5 401.7h5M383.5 423.55h5M383.5 301.19h2.5M383.5 305.56h2.5M383.5 309.93h2.5M383.5 318.67h2.5M383.5 323.04h2.5M383.5 327.41h2.5M383.5 331.78h2.5M383.5 340.52h2.5M383.5 344.89h2.5M383.5 349.26h2.5M383.5 353.63h2.5M383.5 362.37h2.5M383.5 366.74h2.5M383.5 371.11h2.5M383.5 375.48h2.5M383.5 384.22h2.5M383.5 388.59h2.5M383.5 392.96h2.5M383.5 397.33h2.5M383.5 406.07h2.5M383.5 410.44h2.5M383.5 414.81h2.5M383.5 419.18h2.5M383.5 427.92h2.5M383.5 432.29h2.5M383.5 436.66h2.5M383.5 441.03h2.5M533.5 314.3h-5M533.5 336.15h-5M533.5 358h-5M533.5 379.85h-5M533.5 401.7h-5M533.5 423.55h-5M533.5 301.19h-2.5M533.5 305.56h-2.5M533.5 309.93h-2.5M533.5 318.67h-2.5M533.5 323.04h-2.5M533.5 327.41h-2.5M533.5 331.78h-2.5M533.5 340.52h-2.5M533.5 344.89h-2.5M533.5 349.26h-2.5M533.5 353.63h-2.5M533.5 362.37h-2.5M533.5 366.74h-2.5M533.5 371.11h-2.5M533.5 375.48h-2.5M533.5 384.22h-2.5M533.5 388.59h-2.5M533.5 392.96h-2.5M533.5 397.33h-2.5M533.5 406.07h-2.5M533.5 410.44h-2.5M533.5 414.81h-2.5M533.5 419.18h-2.5M533.5 427.92h-2.5M533.5 432.29h-2.5M533.5 436.66h-2.5M533.5 441.03h-2.5M386 445.5v-4.6M410.5 445.5v-4.6M435 445.5v-4.6M459.5 445.5v-4.6M484 445.5v-4.6M508.5 445.5v-4.6M390.9 445.5v-2.3M395.8 445.5v-2.3M400.7 445.5v-2.3M405.6 445.5v-2.3M415.4 445.5v-2.3M420.3 445.5v-2.3M425.2 445.5v-2.3M430.1 445.5v-2.3M439.9 445.5v-2.3M444.8 445.5v-2.3M449.7 445.5v-2.3M454.6 445.5v-2.3M464.4 445.5v-2.3M469.3 445.5v-2.3M474.2 445.5v-2.3M479.1 445.5v-2.3M488.9 445.5v-2.3M493.8 445.5v-2.3M498.7 445.5v-2.3M503.6 445.5v-2.3M513.4 445.5v-2.3M518.3 445.5v-2.3M523.2 445.5v-2.3M528.1 445.5v-2.3M386 297.5v4.6M410.5 297.5v4.6M435 297.5v4.6M459.5 297.5v4.6M484 297.5v4.6M508.5 297.5v4.6M390.9 297.5v2.3M395.8 297.5v2.3M400.7 297.5v2.3M405.6 297.5v2.3M415.4 297.5v2.3M420.3 297.5v2.3M425.2 297.5v2.3M430.1 297.5v2.3M439.9 297.5v2.3M444.8 297.5v2.3M449.7 297.5v2.3M454.6 297.5v2.3M464.4 297.5v2.3M469.3 297.5v2.3M474.2 297.5v2.3M479.1 297.5v2.3M488.9 297.5v2.3M493.8 297.5v2.3M498.7 297.5v2.3M503.6 297.5v2.3M513.4 297.5v2.3M518.3 297.5v2.3M523.2 297.5v2.3M528.1 297.5v2.3M533.5 453.65h5M533.5 477.8h5M533.5 501.95h5M533.5 526.1h5M533.5 550.25h5M533.5 448.82h2.5M533.5 458.48h2.5M533.5 463.31h2.5M533.5 468.14h2.5M533.5 472.97h2.5M533.5 482.63h2.5M533.5 487.46h2.5M533.5 492.29h2.5M533.5 497.12h2.5M533.5 506.78h2.5M533.5 511.61h2.5M533.5 516.44h2.5M533.5 521.27h2.5M533.5 530.93h2.5M533.5 535.76h2.5M533.5 540.59h2.5M533.5 545.42h2.5M533.5 555.08h2.5M533.5 559.91h2.5M533.5 564.74h2.5M533.5 569.57h2.5M684.5 453.65h-5M684.5 477.8h-5M684.5 501.95h-5M684.5 526.1h-5M684.5 550.25h-5M684.5 448.82h-2.5M684.5 458.48h-2.5M684.5 463.31h-2.5M684.5 468.14h-2.5M684.5 472.97h-2.5M684.5 482.63h-2.5M684.5 487.46h-2.5M684.5 492.29h-2.5M684.5 497.12h-2.5M684.5 506.78h-2.5M684.5 511.61h-2.5M684.5 516.44h-2.5M684.5 521.27h-2.5M684.5 530.93h-2.5M684.5 535.76h-2.5M684.5 540.59h-2.5M684.5 545.42h-2.5M684.5 555.08h-2.5M684.5 559.91h-2.5M684.5 564.74h-2.5M684.5 569.57h-2.5M571.4 574.5v-5M609.2 574.5v-5M647 574.5v-5M552.5 574.5v-2.5M590.3 574.5v-2.5M628.1 574.5v-2.5M665.9 574.5v-2.5M571.4 445.5v5M609.2 445.5v5M647 445.5v5M552.5 445.5v2.5M590.3 445.5v2.5M628.1 445.5v2.5M665.9 445.5v2.5" stroke="#ff3300" stroke-width="1.1" fill="none"/>
<path d="M84.5 0.5H233.5V148.5H84.5ZM233.5 148.5H383.5V297.5H233.5ZM383.5 297.5H533.5V445.5H383.5ZM533.5 445.5H684.5V574.5H533.5ZM84.5 148.5H233.5V297.5H84.5ZM84.5 297.5H233.5V445.5H84.5ZM233.5 297.5H383.5V445.5H233.5ZM84.5 445.5H233.5V574.5H84.5ZM233.5 445.5H383.5V574.5H233.5ZM383.5 445.5H533.5V574.5H383.5Z" stroke="#ff3300" stroke-width="1.05" stroke-opacity="0.72" fill="none"/>
<g font-family="Liberation Serif" fill="#000"><text transform="translate(52.39 181.60) scale(1 1.060)" font-size="17.00" stroke="#000" stroke-width="0.30">0.6</text><text transform="translate(52.48 230.60) scale(1 1.060)" font-size="17.00" stroke="#000" stroke-width="0.30">0.5</text><text transform="translate(52.26 278.95) scale(1 1.060)" font-size="17.00" stroke="#000" stroke-width="0.30">0.4</text><text transform="translate(52.35 328.30) scale(1 1.060)" font-size="17.00" stroke="#000" stroke-width="0.30">2.6</text><text transform="translate(52.43 377.85) scale(1 1.060)" font-size="17.00" stroke="#000" stroke-width="0.30">2.5</text><text transform="translate(52.22 426.80) scale(1 1.060)" font-size="17.00" stroke="#000" stroke-width="0.30">2.4</text><text transform="translate(64.70 515.00) scale(1 1.060)" font-size="17.00" stroke="#000" stroke-width="0.30">0</text><text transform="translate(100.81 597.70) scale(1 1.060)" font-size="17.00" stroke="#000" stroke-width="0.30">20</text><text transform="translate(150.59 597.70) scale(1 1.060)" font-size="17.00" stroke="#000" stroke-width="0.30">22</text><text transform="translate(199.50 597.70) scale(1 1.060)" font-size="17.00" stroke="#000" stroke-width="0.30">24</text><text transform="translate(247.56 597.70) scale(1 1.060)" font-size="17.00" stroke="#000" stroke-width="0.30">0.4</text><text transform="translate(297.83 597.70) scale(1 1.060)" font-size="17.00" stroke="#000" stroke-width="0.30">0.5</text><text transform="translate(347.59 597.70) scale(1 1.060)" font-size="17.00" stroke="#000" stroke-width="0.30">0.6</text><text transform="translate(397.52 597.70) scale(1 1.060)" font-size="17.00" stroke="#000" stroke-width="0.30">2.4</text><text transform="translate(447.78 597.70) scale(1 1.060)" font-size="17.00" stroke="#000" stroke-width="0.30">2.5</text><text transform="translate(497.85 597.70) scale(1 1.060)" font-size="17.00" stroke="#000" stroke-width="0.30">2.6</text><text transform="translate(604.20 597.70) scale(1 1.060)" font-size="17.00" stroke="#000" stroke-width="0.30">0</text><text transform="translate(102.63 633.29) scale(1 1.040)" font-size="15.50" stroke="#000" stroke-width="0.30">sin</text><text transform="translate(121.10 626.35) scale(1 0.894)" font-size="10.00" stroke="#000" stroke-width="0.30">2</text><text transform="translate(126.14 633.59) scale(1 0.871)" font-size="17.95" stroke="#000" stroke-width="0.30">&#952;</text><text transform="translate(135.28 639.24) scale(1 1.175)" font-size="9.66" stroke="#000" stroke-width="0.30">13</text><text x="148.59" y="634.00" font-size="16.00" stroke="#000" stroke-width="0.30">[</text><text transform="translate(153.33 635.45) scale(1 1.052)" font-size="19.01" stroke="#000" stroke-width="0.30">&#215;</text><text transform="translate(162.91 633.40) scale(1 0.946)" font-size="15.98" stroke="#000" stroke-width="0.30">10</text><text transform="translate(180.01 626.15) scale(1 1.012)" font-size="9.74" stroke="#000" stroke-width="0.30">-3</text><text x="187.89" y="634.00" font-size="16.00" stroke="#000" stroke-width="0.30">]</text><text transform="translate(287.43 633.19) scale(1 1.046)" font-size="15.41" stroke="#000" stroke-width="0.30">sin</text><text transform="translate(305.80 626.25) scale(1 0.970)" font-size="10.00" stroke="#000" stroke-width="0.30">2</text><text transform="translate(310.21 633.59) scale(1 0.961)" font-size="16.41" stroke="#000" stroke-width="0.30">&#952;</text><text transform="translate(319.08 638.74) scale(1 1.081)" font-size="10.49" stroke="#000" stroke-width="0.30">23</text><text transform="translate(405.78 633.45) scale(1 1.310)" font-size="11.68" stroke="#000" stroke-width="0.30">&#916;</text><text transform="translate(413.19 633.45) scale(1 0.763)" font-size="17.84" stroke="#000" stroke-width="0.30">m</text><text transform="translate(428.79 627.05) scale(1 0.976)" font-size="10.25" stroke="#000" stroke-width="0.30">2</text><text transform="translate(428.30 638.54) scale(1 1.025)" font-size="11.06" stroke="#000" stroke-width="0.30">32</text><text x="447.59" y="634.30" font-size="16.00" stroke="#000" stroke-width="0.30">[</text><text transform="translate(451.35 635.85) scale(1 1.000)" font-size="20.00" stroke="#000" stroke-width="0.30">&#215;</text><text transform="translate(461.41 633.70) scale(1 0.964)" font-size="15.98" stroke="#000" stroke-width="0.30">10</text><text transform="translate(478.30 627.94) scale(1 1.134)" font-size="9.87" stroke="#000" stroke-width="0.30">-3</text><text transform="translate(489.71 633.62) scale(1 0.967)" font-size="16.05" stroke="#000" stroke-width="0.30">eV</text><text transform="translate(509.03 627.45) scale(1 0.909)" font-size="11.50" stroke="#000" stroke-width="0.30">2</text><text x="515.09" y="634.30" font-size="16.00" stroke="#000" stroke-width="0.30">]</text><text transform="translate(597.65 632.59) scale(1 0.943)" font-size="17.47" stroke="#000" stroke-width="0.30">&#948;</text><text transform="translate(606.01 636.85) scale(1 0.885)" font-size="10.96" stroke="#000" stroke-width="0.30">CP</text><text transform="translate(20.49 247.17) rotate(-90) scale(1 1.050)" font-size="15.50" stroke="#000" stroke-width="0.12">sin</text><text transform="translate(12.25 229.19) rotate(-90) scale(1 0.758)" font-size="12.00" stroke="#000" stroke-width="0.12">2</text><text transform="translate(20.39 223.93) rotate(-90) scale(1 0.929)" font-size="17.44" stroke="#000" stroke-width="0.12">&#952;</text><text transform="translate(25.44 215.42) rotate(-90) scale(1 1.093)" font-size="10.38" stroke="#000" stroke-width="0.12">23</text><text transform="translate(20.75 424.63) rotate(-90) scale(1 1.065)" font-size="14.51" stroke="#000" stroke-width="0.12">&#916;</text><text transform="translate(20.75 415.51) rotate(-90) scale(1 0.670)" font-size="18.11" stroke="#000" stroke-width="0.12">m</text><text transform="translate(13.45 401.53) rotate(-90) scale(1 0.987)" font-size="10.75" stroke="#000" stroke-width="0.12">2</text><text transform="translate(25.63 401.09) rotate(-90) scale(1 1.088)" font-size="10.84" stroke="#000" stroke-width="0.12">32</text><text transform="translate(21.20 381.41) rotate(-90) scale(1 1.000)" font-size="16.00" stroke="#000" stroke-width="0.12">[</text><text transform="translate(22.63 376.71) rotate(-90) scale(1 0.919)" font-size="18.27" stroke="#000" stroke-width="0.12">&#215;</text><text transform="translate(20.30 367.43) rotate(-90) scale(1 0.901)" font-size="16.44" stroke="#000" stroke-width="0.12">10</text><text transform="translate(14.63 349.96) rotate(-90) scale(1 1.335)" font-size="8.95" stroke="#000" stroke-width="0.12">-3</text><text transform="translate(20.23 340.87) rotate(-90) scale(1 0.956)" font-size="15.61" stroke="#000" stroke-width="0.12">eV</text><text transform="translate(14.15 321.46) rotate(-90) scale(1 0.906)" font-size="12.37" stroke="#000" stroke-width="0.12">2</text><text transform="translate(21.20 314.54) rotate(-90) scale(1 1.000)" font-size="16.00" stroke="#000" stroke-width="0.12">]</text><text transform="translate(19.48 519.22) rotate(-90) scale(1 1.033)" font-size="16.71" stroke="#000" stroke-width="0.12">&#948;</text><text transform="translate(24.24 511.18) rotate(-90) scale(1 1.018)" font-size="10.70" stroke="#000" stroke-width="0.12">CP</text><text transform="translate(11.88 98.13) rotate(-90) scale(1 1.045)" font-size="16.00" stroke="#000" stroke-width="0.12">Posterior</text><text transform="translate(27.91 97.49) rotate(-90) scale(1 0.952)" font-size="15.81" stroke="#000" stroke-width="0.12">probability</text><text x="571.41" y="590.20" font-size="16.40" stroke="#000" stroke-width="0.30">&#960;</text><text x="571.35" y="606.70" font-size="15.50" stroke="#000" stroke-width="0.30">2</text><path d="M570.80 593.40H580.00" stroke="#000" stroke-width="1.6"/><path d="M562.30 593.50H571.00" stroke="#000" stroke-width="0.9"/><text x="646.81" y="590.20" font-size="16.40" stroke="#000" stroke-width="0.30">&#960;</text><text x="646.75" y="606.70" font-size="15.50" stroke="#000" stroke-width="0.30">2</text><path d="M646.20 593.40H655.40" stroke="#000" stroke-width="1.6"/><path d="M637.70 593.50H646.40M641.90 589.50V597.70" stroke="#000" stroke-width="0.9"/><text x="64.61" y="473.40" font-size="16.40" stroke="#000" stroke-width="0.30">&#960;</text><text x="64.55" y="489.90" font-size="15.50" stroke="#000" stroke-width="0.30">2</text><path d="M64.00 476.60H73.20" stroke="#000" stroke-width="1.6"/><path d="M55.50 476.70H64.20M59.70 472.70V480.90" stroke="#000" stroke-width="0.9"/><text x="64.61" y="537.30" font-size="16.40" stroke="#000" stroke-width="0.30">&#960;</text><text x="64.55" y="553.80" font-size="15.50" stroke="#000" stroke-width="0.30">2</text><path d="M64.00 540.50H73.20" stroke="#000" stroke-width="1.6"/><path d="M55.50 540.60H64.20" stroke="#000" stroke-width="0.9"/></g></svg>
</body></html>
